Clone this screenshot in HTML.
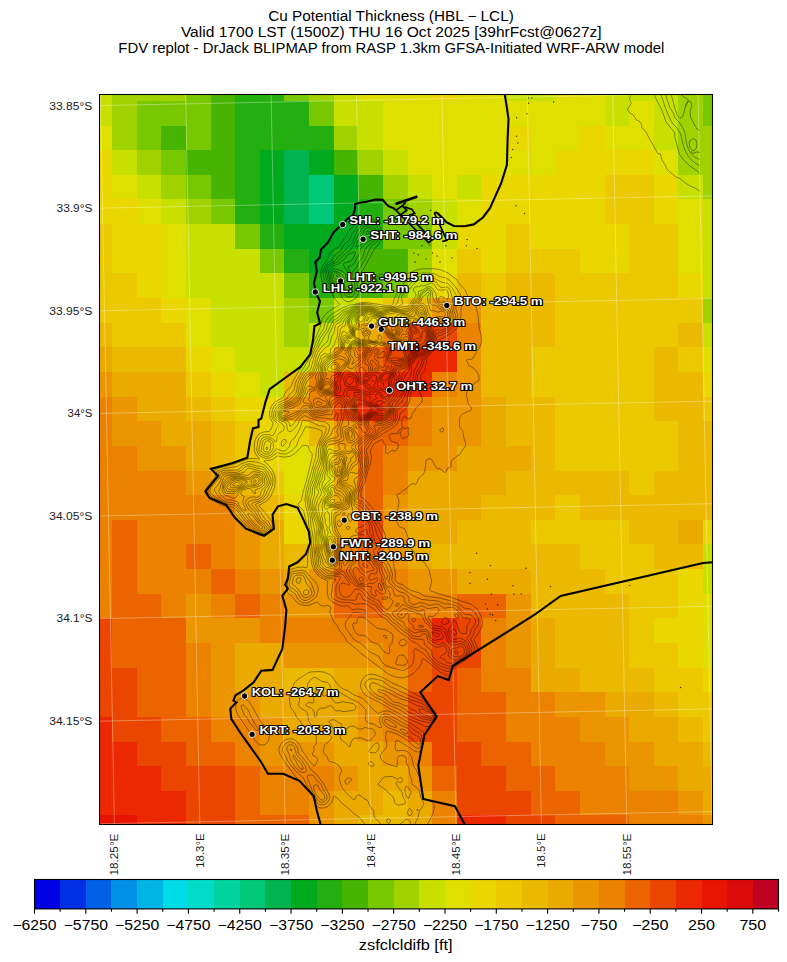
<!DOCTYPE html>
<html><head><meta charset="utf-8"><title>Cu Potential Thickness</title>
<style>html,body{margin:0;padding:0;background:#fff}body{width:787px;height:962px;overflow:hidden;position:relative}svg{position:absolute;left:0;top:0}text{font-family:"Liberation Sans",sans-serif;fill:#000}.lb{font-weight:700;font-size:11.5px;fill:#fff;stroke:#000;stroke-width:2.2px;paint-order:stroke;stroke-linejoin:round}.tk{font-size:10px;fill:#1a1a1a}.cb{font-size:14px;fill:#000}.tt{font-size:14px;fill:#000}</style></head><body>
<svg width="787" height="962" viewBox="0 0 787 962">
<defs><clipPath id="ax"><rect x="99.5" y="94.5" width="613.00" height="730.00"/></clipPath><clipPath id="cx"><rect x="99.5" y="94.5" width="600.70" height="730.00"/></clipPath></defs>
<g clip-path="url(#ax)" shape-rendering="crispEdges">
<rect x="99.50" y="94.50" width="12.80" height="6.70" fill="#c8e000"/>
<rect x="112.00" y="94.50" width="74.19" height="6.70" fill="#a0d200"/>
<rect x="185.89" y="94.50" width="24.93" height="6.70" fill="#78c800"/>
<rect x="210.52" y="94.50" width="24.93" height="6.70" fill="#46b400"/>
<rect x="235.15" y="94.50" width="49.56" height="6.70" fill="#23af0f"/>
<rect x="284.41" y="94.50" width="24.93" height="6.70" fill="#78c800"/>
<rect x="309.04" y="94.50" width="24.93" height="6.70" fill="#a0d200"/>
<rect x="333.67" y="94.50" width="24.93" height="6.70" fill="#c8e000"/>
<rect x="358.30" y="94.50" width="74.19" height="6.70" fill="#e0e000"/>
<rect x="432.19" y="94.50" width="24.93" height="6.70" fill="#ebd700"/>
<rect x="456.82" y="94.50" width="49.56" height="6.70" fill="#e0e000"/>
<rect x="506.08" y="94.50" width="49.56" height="6.70" fill="#c8e000"/>
<rect x="555.34" y="94.50" width="49.56" height="6.70" fill="#e0e000"/>
<rect x="604.60" y="94.50" width="74.19" height="6.70" fill="#c8e000"/>
<rect x="678.49" y="94.50" width="24.93" height="6.70" fill="#a0d200"/>
<rect x="703.12" y="94.50" width="9.68" height="6.70" fill="#78c800"/>
<rect x="99.50" y="100.90" width="12.80" height="24.94" fill="#c8e000"/>
<rect x="112.00" y="100.90" width="24.93" height="24.94" fill="#a0d200"/>
<rect x="136.63" y="100.90" width="74.19" height="24.94" fill="#78c800"/>
<rect x="210.52" y="100.90" width="24.93" height="24.94" fill="#46b400"/>
<rect x="235.15" y="100.90" width="74.19" height="24.94" fill="#23af0f"/>
<rect x="309.04" y="100.90" width="24.93" height="24.94" fill="#78c800"/>
<rect x="333.67" y="100.90" width="49.56" height="24.94" fill="#c8e000"/>
<rect x="382.93" y="100.90" width="221.97" height="24.94" fill="#e0e000"/>
<rect x="604.60" y="100.90" width="24.93" height="24.94" fill="#c8e000"/>
<rect x="629.23" y="100.90" width="24.93" height="24.94" fill="#e0e000"/>
<rect x="653.86" y="100.90" width="24.93" height="24.94" fill="#c8e000"/>
<rect x="678.49" y="100.90" width="24.93" height="24.94" fill="#a0d200"/>
<rect x="703.12" y="100.90" width="9.68" height="24.94" fill="#78c800"/>
<rect x="99.50" y="125.54" width="12.80" height="24.94" fill="#e0e000"/>
<rect x="112.00" y="125.54" width="24.93" height="24.94" fill="#a0d200"/>
<rect x="136.63" y="125.54" width="24.93" height="24.94" fill="#78c800"/>
<rect x="161.26" y="125.54" width="24.93" height="24.94" fill="#46b400"/>
<rect x="185.89" y="125.54" width="24.93" height="24.94" fill="#78c800"/>
<rect x="210.52" y="125.54" width="24.93" height="24.94" fill="#46b400"/>
<rect x="235.15" y="125.54" width="98.82" height="24.94" fill="#23af0f"/>
<rect x="333.67" y="125.54" width="24.93" height="24.94" fill="#a0d200"/>
<rect x="358.30" y="125.54" width="24.93" height="24.94" fill="#c8e000"/>
<rect x="382.93" y="125.54" width="123.45" height="24.94" fill="#e0e000"/>
<rect x="506.08" y="125.54" width="24.93" height="24.94" fill="#ebd700"/>
<rect x="530.71" y="125.54" width="49.56" height="24.94" fill="#e0e000"/>
<rect x="579.97" y="125.54" width="24.93" height="24.94" fill="#ebd700"/>
<rect x="604.60" y="125.54" width="49.56" height="24.94" fill="#e0e000"/>
<rect x="653.86" y="125.54" width="24.93" height="24.94" fill="#c8e000"/>
<rect x="678.49" y="125.54" width="34.31" height="24.94" fill="#a0d200"/>
<rect x="99.50" y="150.18" width="12.80" height="24.94" fill="#ebd700"/>
<rect x="112.00" y="150.18" width="24.93" height="24.94" fill="#c8e000"/>
<rect x="136.63" y="150.18" width="24.93" height="24.94" fill="#a0d200"/>
<rect x="161.26" y="150.18" width="24.93" height="24.94" fill="#78c800"/>
<rect x="185.89" y="150.18" width="49.56" height="24.94" fill="#46b400"/>
<rect x="235.15" y="150.18" width="24.93" height="24.94" fill="#23af0f"/>
<rect x="259.78" y="150.18" width="24.93" height="24.94" fill="#00aa1e"/>
<rect x="284.41" y="150.18" width="24.93" height="24.94" fill="#00b450"/>
<rect x="309.04" y="150.18" width="24.93" height="24.94" fill="#00aa1e"/>
<rect x="333.67" y="150.18" width="24.93" height="24.94" fill="#46b400"/>
<rect x="358.30" y="150.18" width="24.93" height="24.94" fill="#a0d200"/>
<rect x="382.93" y="150.18" width="24.93" height="24.94" fill="#c8e000"/>
<rect x="407.56" y="150.18" width="148.08" height="24.94" fill="#e0e000"/>
<rect x="555.34" y="150.18" width="98.82" height="24.94" fill="#ebd700"/>
<rect x="653.86" y="150.18" width="24.93" height="24.94" fill="#e0e000"/>
<rect x="678.49" y="150.18" width="34.31" height="24.94" fill="#a0d200"/>
<rect x="99.50" y="174.82" width="12.80" height="24.94" fill="#ebd700"/>
<rect x="112.00" y="174.82" width="24.93" height="24.94" fill="#e0e000"/>
<rect x="136.63" y="174.82" width="24.93" height="24.94" fill="#c8e000"/>
<rect x="161.26" y="174.82" width="24.93" height="24.94" fill="#a0d200"/>
<rect x="185.89" y="174.82" width="24.93" height="24.94" fill="#78c800"/>
<rect x="210.52" y="174.82" width="24.93" height="24.94" fill="#46b400"/>
<rect x="235.15" y="174.82" width="24.93" height="24.94" fill="#23af0f"/>
<rect x="259.78" y="174.82" width="24.93" height="24.94" fill="#00aa1e"/>
<rect x="284.41" y="174.82" width="24.93" height="24.94" fill="#00b450"/>
<rect x="309.04" y="174.82" width="24.93" height="24.94" fill="#00c878"/>
<rect x="333.67" y="174.82" width="24.93" height="24.94" fill="#00aa1e"/>
<rect x="358.30" y="174.82" width="24.93" height="24.94" fill="#46b400"/>
<rect x="382.93" y="174.82" width="24.93" height="24.94" fill="#a0d200"/>
<rect x="407.56" y="174.82" width="24.93" height="24.94" fill="#c8e000"/>
<rect x="432.19" y="174.82" width="24.93" height="24.94" fill="#e0e000"/>
<rect x="456.82" y="174.82" width="24.93" height="24.94" fill="#c8e000"/>
<rect x="481.45" y="174.82" width="123.45" height="24.94" fill="#ebd700"/>
<rect x="604.60" y="174.82" width="49.56" height="24.94" fill="#ebc800"/>
<rect x="653.86" y="174.82" width="24.93" height="24.94" fill="#ebd700"/>
<rect x="678.49" y="174.82" width="24.93" height="24.94" fill="#c8e000"/>
<rect x="703.12" y="174.82" width="9.68" height="24.94" fill="#a0d200"/>
<rect x="99.50" y="199.46" width="37.43" height="24.94" fill="#ebd700"/>
<rect x="136.63" y="199.46" width="24.93" height="24.94" fill="#e0e000"/>
<rect x="161.26" y="199.46" width="24.93" height="24.94" fill="#c8e000"/>
<rect x="185.89" y="199.46" width="24.93" height="24.94" fill="#a0d200"/>
<rect x="210.52" y="199.46" width="24.93" height="24.94" fill="#78c800"/>
<rect x="235.15" y="199.46" width="24.93" height="24.94" fill="#23af0f"/>
<rect x="259.78" y="199.46" width="24.93" height="24.94" fill="#00aa1e"/>
<rect x="284.41" y="199.46" width="24.93" height="24.94" fill="#00b450"/>
<rect x="309.04" y="199.46" width="24.93" height="24.94" fill="#00c878"/>
<rect x="333.67" y="199.46" width="24.93" height="24.94" fill="#00aa1e"/>
<rect x="358.30" y="199.46" width="24.93" height="24.94" fill="#23af0f"/>
<rect x="382.93" y="199.46" width="24.93" height="24.94" fill="#78c800"/>
<rect x="407.56" y="199.46" width="24.93" height="24.94" fill="#a0d200"/>
<rect x="432.19" y="199.46" width="24.93" height="24.94" fill="#c8e000"/>
<rect x="456.82" y="199.46" width="24.93" height="24.94" fill="#e0e000"/>
<rect x="481.45" y="199.46" width="123.45" height="24.94" fill="#ebd700"/>
<rect x="604.60" y="199.46" width="49.56" height="24.94" fill="#ebc800"/>
<rect x="653.86" y="199.46" width="24.93" height="24.94" fill="#ebd700"/>
<rect x="678.49" y="199.46" width="24.93" height="24.94" fill="#e0e000"/>
<rect x="703.12" y="199.46" width="9.68" height="24.94" fill="#c8e000"/>
<rect x="99.50" y="224.10" width="12.80" height="24.94" fill="#ebc800"/>
<rect x="112.00" y="224.10" width="49.56" height="24.94" fill="#ebd700"/>
<rect x="161.26" y="224.10" width="24.93" height="24.94" fill="#e0e000"/>
<rect x="185.89" y="224.10" width="49.56" height="24.94" fill="#c8e000"/>
<rect x="235.15" y="224.10" width="24.93" height="24.94" fill="#78c800"/>
<rect x="259.78" y="224.10" width="24.93" height="24.94" fill="#23af0f"/>
<rect x="284.41" y="224.10" width="74.19" height="24.94" fill="#00aa1e"/>
<rect x="358.30" y="224.10" width="24.93" height="24.94" fill="#23af0f"/>
<rect x="382.93" y="224.10" width="49.56" height="24.94" fill="#78c800"/>
<rect x="432.19" y="224.10" width="24.93" height="24.94" fill="#c8e000"/>
<rect x="456.82" y="224.10" width="49.56" height="24.94" fill="#ebd700"/>
<rect x="506.08" y="224.10" width="24.93" height="24.94" fill="#ebc800"/>
<rect x="530.71" y="224.10" width="98.82" height="24.94" fill="#ebd700"/>
<rect x="629.23" y="224.10" width="49.56" height="24.94" fill="#ebc800"/>
<rect x="678.49" y="224.10" width="24.93" height="24.94" fill="#e0e000"/>
<rect x="703.12" y="224.10" width="9.68" height="24.94" fill="#c8e000"/>
<rect x="99.50" y="248.74" width="12.80" height="24.94" fill="#ebc800"/>
<rect x="112.00" y="248.74" width="49.56" height="24.94" fill="#ebd700"/>
<rect x="161.26" y="248.74" width="24.93" height="24.94" fill="#e0e000"/>
<rect x="185.89" y="248.74" width="74.19" height="24.94" fill="#c8e000"/>
<rect x="259.78" y="248.74" width="24.93" height="24.94" fill="#78c800"/>
<rect x="284.41" y="248.74" width="24.93" height="24.94" fill="#23af0f"/>
<rect x="309.04" y="248.74" width="24.93" height="24.94" fill="#00aa1e"/>
<rect x="333.67" y="248.74" width="24.93" height="24.94" fill="#23af0f"/>
<rect x="358.30" y="248.74" width="49.56" height="24.94" fill="#46b400"/>
<rect x="407.56" y="248.74" width="24.93" height="24.94" fill="#a0d200"/>
<rect x="432.19" y="248.74" width="24.93" height="24.94" fill="#e0e000"/>
<rect x="456.82" y="248.74" width="24.93" height="24.94" fill="#ebc800"/>
<rect x="481.45" y="248.74" width="24.93" height="24.94" fill="#ebd700"/>
<rect x="506.08" y="248.74" width="74.19" height="24.94" fill="#ebc800"/>
<rect x="579.97" y="248.74" width="49.56" height="24.94" fill="#ebd700"/>
<rect x="629.23" y="248.74" width="49.56" height="24.94" fill="#ebc800"/>
<rect x="678.49" y="248.74" width="24.93" height="24.94" fill="#e0e000"/>
<rect x="703.12" y="248.74" width="9.68" height="24.94" fill="#c8e000"/>
<rect x="99.50" y="273.38" width="37.43" height="24.94" fill="#ebc800"/>
<rect x="136.63" y="273.38" width="24.93" height="24.94" fill="#ebd700"/>
<rect x="161.26" y="273.38" width="24.93" height="24.94" fill="#e0e000"/>
<rect x="185.89" y="273.38" width="98.82" height="24.94" fill="#c8e000"/>
<rect x="284.41" y="273.38" width="24.93" height="24.94" fill="#78c800"/>
<rect x="309.04" y="273.38" width="24.93" height="24.94" fill="#23af0f"/>
<rect x="333.67" y="273.38" width="49.56" height="24.94" fill="#46b400"/>
<rect x="382.93" y="273.38" width="24.93" height="24.94" fill="#78c800"/>
<rect x="407.56" y="273.38" width="24.93" height="24.94" fill="#c8e000"/>
<rect x="432.19" y="273.38" width="24.93" height="24.94" fill="#ebd700"/>
<rect x="456.82" y="273.38" width="24.93" height="24.94" fill="#ebb900"/>
<rect x="481.45" y="273.38" width="24.93" height="24.94" fill="#ebc800"/>
<rect x="506.08" y="273.38" width="49.56" height="24.94" fill="#ebb900"/>
<rect x="555.34" y="273.38" width="123.45" height="24.94" fill="#ebc800"/>
<rect x="678.49" y="273.38" width="24.93" height="24.94" fill="#ebd700"/>
<rect x="703.12" y="273.38" width="9.68" height="24.94" fill="#c8e000"/>
<rect x="99.50" y="298.02" width="62.06" height="24.94" fill="#ebc800"/>
<rect x="161.26" y="298.02" width="24.93" height="24.94" fill="#ebd700"/>
<rect x="185.89" y="298.02" width="24.93" height="24.94" fill="#e0e000"/>
<rect x="210.52" y="298.02" width="74.19" height="24.94" fill="#c8e000"/>
<rect x="284.41" y="298.02" width="24.93" height="24.94" fill="#a0d200"/>
<rect x="309.04" y="298.02" width="24.93" height="24.94" fill="#78c800"/>
<rect x="333.67" y="298.02" width="24.93" height="24.94" fill="#c8e000"/>
<rect x="358.30" y="298.02" width="24.93" height="24.94" fill="#ebd700"/>
<rect x="382.93" y="298.02" width="24.93" height="24.94" fill="#ebc800"/>
<rect x="407.56" y="298.02" width="24.93" height="24.94" fill="#ebb900"/>
<rect x="432.19" y="298.02" width="49.56" height="24.94" fill="#eb9600"/>
<rect x="481.45" y="298.02" width="74.19" height="24.94" fill="#ebb900"/>
<rect x="555.34" y="298.02" width="148.08" height="24.94" fill="#ebc800"/>
<rect x="703.12" y="298.02" width="9.68" height="24.94" fill="#a0d200"/>
<rect x="99.50" y="322.66" width="12.80" height="24.94" fill="#ebb900"/>
<rect x="112.00" y="322.66" width="74.19" height="24.94" fill="#ebc800"/>
<rect x="185.89" y="322.66" width="24.93" height="24.94" fill="#e0e000"/>
<rect x="210.52" y="322.66" width="74.19" height="24.94" fill="#c8e000"/>
<rect x="284.41" y="322.66" width="24.93" height="24.94" fill="#a0d200"/>
<rect x="309.04" y="322.66" width="24.93" height="24.94" fill="#c8e000"/>
<rect x="333.67" y="322.66" width="24.93" height="24.94" fill="#ebd700"/>
<rect x="358.30" y="322.66" width="24.93" height="24.94" fill="#ebaa00"/>
<rect x="382.93" y="322.66" width="24.93" height="24.94" fill="#eb8200"/>
<rect x="407.56" y="322.66" width="49.56" height="24.94" fill="#eb4600"/>
<rect x="456.82" y="322.66" width="24.93" height="24.94" fill="#eb8200"/>
<rect x="481.45" y="322.66" width="74.19" height="24.94" fill="#ebb900"/>
<rect x="555.34" y="322.66" width="123.45" height="24.94" fill="#ebc800"/>
<rect x="678.49" y="322.66" width="24.93" height="24.94" fill="#ebb900"/>
<rect x="703.12" y="322.66" width="9.68" height="24.94" fill="#c8e000"/>
<rect x="99.50" y="347.30" width="12.80" height="24.94" fill="#ebaa00"/>
<rect x="112.00" y="347.30" width="74.19" height="24.94" fill="#ebb900"/>
<rect x="185.89" y="347.30" width="24.93" height="24.94" fill="#ebd700"/>
<rect x="210.52" y="347.30" width="24.93" height="24.94" fill="#e0e000"/>
<rect x="235.15" y="347.30" width="74.19" height="24.94" fill="#c8e000"/>
<rect x="309.04" y="347.30" width="24.93" height="24.94" fill="#ebd700"/>
<rect x="333.67" y="347.30" width="24.93" height="24.94" fill="#eb9600"/>
<rect x="358.30" y="347.30" width="24.93" height="24.94" fill="#eb6400"/>
<rect x="382.93" y="347.30" width="24.93" height="24.94" fill="#eb4600"/>
<rect x="407.56" y="347.30" width="49.56" height="24.94" fill="#eb2800"/>
<rect x="456.82" y="347.30" width="24.93" height="24.94" fill="#eb9600"/>
<rect x="481.45" y="347.30" width="49.56" height="24.94" fill="#ebb900"/>
<rect x="530.71" y="347.30" width="123.45" height="24.94" fill="#ebc800"/>
<rect x="653.86" y="347.30" width="24.93" height="24.94" fill="#ebb900"/>
<rect x="678.49" y="347.30" width="24.93" height="24.94" fill="#ebc800"/>
<rect x="703.12" y="347.30" width="9.68" height="24.94" fill="#e0e000"/>
<rect x="99.50" y="371.94" width="12.80" height="24.94" fill="#eb9600"/>
<rect x="112.00" y="371.94" width="74.19" height="24.94" fill="#ebaa00"/>
<rect x="185.89" y="371.94" width="24.93" height="24.94" fill="#ebc800"/>
<rect x="210.52" y="371.94" width="24.93" height="24.94" fill="#ebd700"/>
<rect x="235.15" y="371.94" width="24.93" height="24.94" fill="#e0e000"/>
<rect x="259.78" y="371.94" width="24.93" height="24.94" fill="#c8e000"/>
<rect x="284.41" y="371.94" width="24.93" height="24.94" fill="#ebb900"/>
<rect x="309.04" y="371.94" width="24.93" height="24.94" fill="#eb8200"/>
<rect x="333.67" y="371.94" width="98.82" height="24.94" fill="#eb2800"/>
<rect x="432.19" y="371.94" width="24.93" height="24.94" fill="#eb8200"/>
<rect x="456.82" y="371.94" width="24.93" height="24.94" fill="#eb9600"/>
<rect x="481.45" y="371.94" width="49.56" height="24.94" fill="#ebb900"/>
<rect x="530.71" y="371.94" width="123.45" height="24.94" fill="#ebc800"/>
<rect x="653.86" y="371.94" width="49.56" height="24.94" fill="#ebb900"/>
<rect x="703.12" y="371.94" width="9.68" height="24.94" fill="#ebd700"/>
<rect x="99.50" y="396.58" width="12.80" height="24.94" fill="#eb8200"/>
<rect x="112.00" y="396.58" width="24.93" height="24.94" fill="#eb9600"/>
<rect x="136.63" y="396.58" width="49.56" height="24.94" fill="#ebaa00"/>
<rect x="185.89" y="396.58" width="24.93" height="24.94" fill="#ebb900"/>
<rect x="210.52" y="396.58" width="24.93" height="24.94" fill="#ebc800"/>
<rect x="235.15" y="396.58" width="49.56" height="24.94" fill="#ebd700"/>
<rect x="284.41" y="396.58" width="24.93" height="24.94" fill="#eb9600"/>
<rect x="309.04" y="396.58" width="24.93" height="24.94" fill="#eb8200"/>
<rect x="333.67" y="396.58" width="24.93" height="24.94" fill="#eb4600"/>
<rect x="358.30" y="396.58" width="24.93" height="24.94" fill="#eb2800"/>
<rect x="382.93" y="396.58" width="24.93" height="24.94" fill="#eb4600"/>
<rect x="407.56" y="396.58" width="24.93" height="24.94" fill="#eb8200"/>
<rect x="432.19" y="396.58" width="49.56" height="24.94" fill="#eb9600"/>
<rect x="481.45" y="396.58" width="24.93" height="24.94" fill="#ebaa00"/>
<rect x="506.08" y="396.58" width="49.56" height="24.94" fill="#ebb900"/>
<rect x="555.34" y="396.58" width="98.82" height="24.94" fill="#ebc800"/>
<rect x="653.86" y="396.58" width="49.56" height="24.94" fill="#ebb900"/>
<rect x="703.12" y="396.58" width="9.68" height="24.94" fill="#ebc800"/>
<rect x="99.50" y="421.22" width="12.80" height="24.94" fill="#eb8200"/>
<rect x="112.00" y="421.22" width="49.56" height="24.94" fill="#eb9600"/>
<rect x="161.26" y="421.22" width="49.56" height="24.94" fill="#ebaa00"/>
<rect x="210.52" y="421.22" width="24.93" height="24.94" fill="#ebb900"/>
<rect x="235.15" y="421.22" width="24.93" height="24.94" fill="#ebc800"/>
<rect x="259.78" y="421.22" width="49.56" height="24.94" fill="#ebd700"/>
<rect x="309.04" y="421.22" width="24.93" height="24.94" fill="#ebb900"/>
<rect x="333.67" y="421.22" width="24.93" height="24.94" fill="#eb9600"/>
<rect x="358.30" y="421.22" width="49.56" height="24.94" fill="#eb6400"/>
<rect x="407.56" y="421.22" width="24.93" height="24.94" fill="#eb8200"/>
<rect x="432.19" y="421.22" width="49.56" height="24.94" fill="#eb9600"/>
<rect x="481.45" y="421.22" width="24.93" height="24.94" fill="#ebaa00"/>
<rect x="506.08" y="421.22" width="49.56" height="24.94" fill="#ebb900"/>
<rect x="555.34" y="421.22" width="123.45" height="24.94" fill="#ebc800"/>
<rect x="678.49" y="421.22" width="34.31" height="24.94" fill="#ebb900"/>
<rect x="99.50" y="445.86" width="37.43" height="24.94" fill="#eb8200"/>
<rect x="136.63" y="445.86" width="49.56" height="24.94" fill="#eb9600"/>
<rect x="185.89" y="445.86" width="24.93" height="24.94" fill="#ebaa00"/>
<rect x="210.52" y="445.86" width="24.93" height="24.94" fill="#ebb900"/>
<rect x="235.15" y="445.86" width="24.93" height="24.94" fill="#ebc800"/>
<rect x="259.78" y="445.86" width="24.93" height="24.94" fill="#ebd700"/>
<rect x="284.41" y="445.86" width="24.93" height="24.94" fill="#e0e000"/>
<rect x="309.04" y="445.86" width="24.93" height="24.94" fill="#ebd700"/>
<rect x="333.67" y="445.86" width="24.93" height="24.94" fill="#ebaa00"/>
<rect x="358.30" y="445.86" width="24.93" height="24.94" fill="#eb6400"/>
<rect x="382.93" y="445.86" width="24.93" height="24.94" fill="#eb8200"/>
<rect x="407.56" y="445.86" width="49.56" height="24.94" fill="#eb9600"/>
<rect x="456.82" y="445.86" width="74.19" height="24.94" fill="#ebaa00"/>
<rect x="530.71" y="445.86" width="24.93" height="24.94" fill="#ebb900"/>
<rect x="555.34" y="445.86" width="123.45" height="24.94" fill="#ebc800"/>
<rect x="678.49" y="445.86" width="34.31" height="24.94" fill="#ebb900"/>
<rect x="99.50" y="470.50" width="86.69" height="24.94" fill="#eb8200"/>
<rect x="185.89" y="470.50" width="24.93" height="24.94" fill="#eb9600"/>
<rect x="210.52" y="470.50" width="24.93" height="24.94" fill="#ebaa00"/>
<rect x="235.15" y="470.50" width="24.93" height="24.94" fill="#ebb900"/>
<rect x="259.78" y="470.50" width="24.93" height="24.94" fill="#ebc800"/>
<rect x="284.41" y="470.50" width="49.56" height="24.94" fill="#e0e000"/>
<rect x="333.67" y="470.50" width="24.93" height="24.94" fill="#ebaa00"/>
<rect x="358.30" y="470.50" width="24.93" height="24.94" fill="#eb6400"/>
<rect x="382.93" y="470.50" width="24.93" height="24.94" fill="#eb8200"/>
<rect x="407.56" y="470.50" width="98.82" height="24.94" fill="#ebaa00"/>
<rect x="506.08" y="470.50" width="123.45" height="24.94" fill="#ebb900"/>
<rect x="629.23" y="470.50" width="24.93" height="24.94" fill="#ebc800"/>
<rect x="653.86" y="470.50" width="58.94" height="24.94" fill="#ebb900"/>
<rect x="99.50" y="495.14" width="135.95" height="24.94" fill="#eb8200"/>
<rect x="235.15" y="495.14" width="24.93" height="24.94" fill="#ebaa00"/>
<rect x="259.78" y="495.14" width="24.93" height="24.94" fill="#ebb900"/>
<rect x="284.41" y="495.14" width="49.56" height="24.94" fill="#ebd700"/>
<rect x="333.67" y="495.14" width="24.93" height="24.94" fill="#ebaa00"/>
<rect x="358.30" y="495.14" width="24.93" height="24.94" fill="#eb6400"/>
<rect x="382.93" y="495.14" width="24.93" height="24.94" fill="#eb9600"/>
<rect x="407.56" y="495.14" width="74.19" height="24.94" fill="#ebaa00"/>
<rect x="481.45" y="495.14" width="74.19" height="24.94" fill="#ebb900"/>
<rect x="555.34" y="495.14" width="24.93" height="24.94" fill="#ebc800"/>
<rect x="579.97" y="495.14" width="132.83" height="24.94" fill="#ebb900"/>
<rect x="99.50" y="519.78" width="12.80" height="24.94" fill="#eb8200"/>
<rect x="112.00" y="519.78" width="24.93" height="24.94" fill="#eb6400"/>
<rect x="136.63" y="519.78" width="98.82" height="24.94" fill="#eb8200"/>
<rect x="235.15" y="519.78" width="24.93" height="24.94" fill="#eb9600"/>
<rect x="259.78" y="519.78" width="24.93" height="24.94" fill="#ebaa00"/>
<rect x="284.41" y="519.78" width="49.56" height="24.94" fill="#ebd700"/>
<rect x="333.67" y="519.78" width="24.93" height="24.94" fill="#ebaa00"/>
<rect x="358.30" y="519.78" width="24.93" height="24.94" fill="#eb4600"/>
<rect x="382.93" y="519.78" width="24.93" height="24.94" fill="#eb9600"/>
<rect x="407.56" y="519.78" width="49.56" height="24.94" fill="#ebaa00"/>
<rect x="456.82" y="519.78" width="74.19" height="24.94" fill="#ebb900"/>
<rect x="530.71" y="519.78" width="98.82" height="24.94" fill="#ebc800"/>
<rect x="629.23" y="519.78" width="49.56" height="24.94" fill="#ebb900"/>
<rect x="678.49" y="519.78" width="24.93" height="24.94" fill="#ebaa00"/>
<rect x="703.12" y="519.78" width="9.68" height="24.94" fill="#ebd700"/>
<rect x="99.50" y="544.42" width="12.80" height="24.94" fill="#eb8200"/>
<rect x="112.00" y="544.42" width="24.93" height="24.94" fill="#eb6400"/>
<rect x="136.63" y="544.42" width="49.56" height="24.94" fill="#eb8200"/>
<rect x="185.89" y="544.42" width="24.93" height="24.94" fill="#eb6400"/>
<rect x="210.52" y="544.42" width="24.93" height="24.94" fill="#eb8200"/>
<rect x="235.15" y="544.42" width="24.93" height="24.94" fill="#eb9600"/>
<rect x="259.78" y="544.42" width="24.93" height="24.94" fill="#ebaa00"/>
<rect x="284.41" y="544.42" width="49.56" height="24.94" fill="#ebb900"/>
<rect x="333.67" y="544.42" width="24.93" height="24.94" fill="#eb8200"/>
<rect x="358.30" y="544.42" width="24.93" height="24.94" fill="#eb6400"/>
<rect x="382.93" y="544.42" width="24.93" height="24.94" fill="#eb9600"/>
<rect x="407.56" y="544.42" width="24.93" height="24.94" fill="#ebaa00"/>
<rect x="432.19" y="544.42" width="148.08" height="24.94" fill="#ebb900"/>
<rect x="579.97" y="544.42" width="74.19" height="24.94" fill="#ebc800"/>
<rect x="653.86" y="544.42" width="49.56" height="24.94" fill="#ebb900"/>
<rect x="703.12" y="544.42" width="9.68" height="24.94" fill="#c8e000"/>
<rect x="99.50" y="569.06" width="12.80" height="24.94" fill="#eb8200"/>
<rect x="112.00" y="569.06" width="24.93" height="24.94" fill="#eb6400"/>
<rect x="136.63" y="569.06" width="74.19" height="24.94" fill="#eb8200"/>
<rect x="210.52" y="569.06" width="24.93" height="24.94" fill="#eb6400"/>
<rect x="235.15" y="569.06" width="24.93" height="24.94" fill="#eb8200"/>
<rect x="259.78" y="569.06" width="24.93" height="24.94" fill="#eb9600"/>
<rect x="284.41" y="569.06" width="24.93" height="24.94" fill="#ebaa00"/>
<rect x="309.04" y="569.06" width="24.93" height="24.94" fill="#eb9600"/>
<rect x="333.67" y="569.06" width="49.56" height="24.94" fill="#eb6400"/>
<rect x="382.93" y="569.06" width="24.93" height="24.94" fill="#eb8200"/>
<rect x="407.56" y="569.06" width="49.56" height="24.94" fill="#eb9600"/>
<rect x="456.82" y="569.06" width="74.19" height="24.94" fill="#ebaa00"/>
<rect x="530.71" y="569.06" width="74.19" height="24.94" fill="#ebb900"/>
<rect x="604.60" y="569.06" width="74.19" height="24.94" fill="#ebc800"/>
<rect x="678.49" y="569.06" width="24.93" height="24.94" fill="#ebd700"/>
<rect x="703.12" y="569.06" width="9.68" height="24.94" fill="#c8e000"/>
<rect x="99.50" y="593.70" width="12.80" height="24.94" fill="#eb8200"/>
<rect x="112.00" y="593.70" width="49.56" height="24.94" fill="#eb6400"/>
<rect x="161.26" y="593.70" width="24.93" height="24.94" fill="#eb8200"/>
<rect x="185.89" y="593.70" width="24.93" height="24.94" fill="#eb9600"/>
<rect x="210.52" y="593.70" width="24.93" height="24.94" fill="#eb8200"/>
<rect x="235.15" y="593.70" width="24.93" height="24.94" fill="#eb6400"/>
<rect x="259.78" y="593.70" width="24.93" height="24.94" fill="#eb8200"/>
<rect x="284.41" y="593.70" width="49.56" height="24.94" fill="#eb9600"/>
<rect x="333.67" y="593.70" width="49.56" height="24.94" fill="#eb6400"/>
<rect x="382.93" y="593.70" width="74.19" height="24.94" fill="#eb8200"/>
<rect x="456.82" y="593.70" width="49.56" height="24.94" fill="#eb6400"/>
<rect x="506.08" y="593.70" width="24.93" height="24.94" fill="#eb9600"/>
<rect x="530.71" y="593.70" width="98.82" height="24.94" fill="#ebb900"/>
<rect x="629.23" y="593.70" width="49.56" height="24.94" fill="#ebc800"/>
<rect x="678.49" y="593.70" width="24.93" height="24.94" fill="#ebd700"/>
<rect x="703.12" y="593.70" width="9.68" height="24.94" fill="#e0e000"/>
<rect x="99.50" y="618.34" width="12.80" height="24.94" fill="#eb4600"/>
<rect x="112.00" y="618.34" width="74.19" height="24.94" fill="#eb6400"/>
<rect x="185.89" y="618.34" width="74.19" height="24.94" fill="#eb9600"/>
<rect x="259.78" y="618.34" width="148.08" height="24.94" fill="#eb8200"/>
<rect x="407.56" y="618.34" width="24.93" height="24.94" fill="#eb6400"/>
<rect x="432.19" y="618.34" width="24.93" height="24.94" fill="#eb2800"/>
<rect x="456.82" y="618.34" width="24.93" height="24.94" fill="#eb4600"/>
<rect x="481.45" y="618.34" width="24.93" height="24.94" fill="#eb8200"/>
<rect x="506.08" y="618.34" width="24.93" height="24.94" fill="#eb9600"/>
<rect x="530.71" y="618.34" width="24.93" height="24.94" fill="#ebaa00"/>
<rect x="555.34" y="618.34" width="74.19" height="24.94" fill="#ebb900"/>
<rect x="629.23" y="618.34" width="24.93" height="24.94" fill="#ebc800"/>
<rect x="653.86" y="618.34" width="49.56" height="24.94" fill="#ebd700"/>
<rect x="703.12" y="618.34" width="9.68" height="24.94" fill="#e0e000"/>
<rect x="99.50" y="642.98" width="12.80" height="24.94" fill="#eb4600"/>
<rect x="112.00" y="642.98" width="74.19" height="24.94" fill="#eb6400"/>
<rect x="185.89" y="642.98" width="24.93" height="24.94" fill="#eb8200"/>
<rect x="210.52" y="642.98" width="24.93" height="24.94" fill="#eb9600"/>
<rect x="235.15" y="642.98" width="49.56" height="24.94" fill="#ebaa00"/>
<rect x="284.41" y="642.98" width="98.82" height="24.94" fill="#eb9600"/>
<rect x="382.93" y="642.98" width="24.93" height="24.94" fill="#eb8200"/>
<rect x="407.56" y="642.98" width="24.93" height="24.94" fill="#eb6400"/>
<rect x="432.19" y="642.98" width="49.56" height="24.94" fill="#eb4600"/>
<rect x="481.45" y="642.98" width="24.93" height="24.94" fill="#eb8200"/>
<rect x="506.08" y="642.98" width="24.93" height="24.94" fill="#eb9600"/>
<rect x="530.71" y="642.98" width="24.93" height="24.94" fill="#ebaa00"/>
<rect x="555.34" y="642.98" width="74.19" height="24.94" fill="#ebb900"/>
<rect x="629.23" y="642.98" width="49.56" height="24.94" fill="#ebc800"/>
<rect x="678.49" y="642.98" width="24.93" height="24.94" fill="#ebd700"/>
<rect x="703.12" y="642.98" width="9.68" height="24.94" fill="#e0e000"/>
<rect x="99.50" y="667.62" width="37.43" height="24.94" fill="#eb4600"/>
<rect x="136.63" y="667.62" width="49.56" height="24.94" fill="#eb6400"/>
<rect x="185.89" y="667.62" width="24.93" height="24.94" fill="#eb8200"/>
<rect x="210.52" y="667.62" width="24.93" height="24.94" fill="#eb9600"/>
<rect x="235.15" y="667.62" width="49.56" height="24.94" fill="#ebaa00"/>
<rect x="284.41" y="667.62" width="49.56" height="24.94" fill="#ebb900"/>
<rect x="333.67" y="667.62" width="49.56" height="24.94" fill="#ebaa00"/>
<rect x="382.93" y="667.62" width="24.93" height="24.94" fill="#eb9600"/>
<rect x="407.56" y="667.62" width="24.93" height="24.94" fill="#eb6400"/>
<rect x="432.19" y="667.62" width="24.93" height="24.94" fill="#eb4600"/>
<rect x="456.82" y="667.62" width="24.93" height="24.94" fill="#eb6400"/>
<rect x="481.45" y="667.62" width="49.56" height="24.94" fill="#eb8200"/>
<rect x="530.71" y="667.62" width="49.56" height="24.94" fill="#ebaa00"/>
<rect x="579.97" y="667.62" width="74.19" height="24.94" fill="#ebb900"/>
<rect x="653.86" y="667.62" width="49.56" height="24.94" fill="#ebc800"/>
<rect x="703.12" y="667.62" width="9.68" height="24.94" fill="#ebd700"/>
<rect x="99.50" y="692.26" width="37.43" height="24.94" fill="#eb4600"/>
<rect x="136.63" y="692.26" width="49.56" height="24.94" fill="#eb6400"/>
<rect x="185.89" y="692.26" width="24.93" height="24.94" fill="#eb8200"/>
<rect x="210.52" y="692.26" width="49.56" height="24.94" fill="#eb9600"/>
<rect x="259.78" y="692.26" width="98.82" height="24.94" fill="#ebaa00"/>
<rect x="358.30" y="692.26" width="24.93" height="24.94" fill="#eb9600"/>
<rect x="382.93" y="692.26" width="24.93" height="24.94" fill="#eb8200"/>
<rect x="407.56" y="692.26" width="49.56" height="24.94" fill="#eb4600"/>
<rect x="456.82" y="692.26" width="49.56" height="24.94" fill="#eb6400"/>
<rect x="506.08" y="692.26" width="49.56" height="24.94" fill="#eb8200"/>
<rect x="555.34" y="692.26" width="49.56" height="24.94" fill="#eb9600"/>
<rect x="604.60" y="692.26" width="49.56" height="24.94" fill="#ebaa00"/>
<rect x="653.86" y="692.26" width="24.93" height="24.94" fill="#ebb900"/>
<rect x="678.49" y="692.26" width="34.31" height="24.94" fill="#ebc800"/>
<rect x="99.50" y="716.90" width="12.80" height="24.94" fill="#eb2800"/>
<rect x="112.00" y="716.90" width="49.56" height="24.94" fill="#eb4600"/>
<rect x="161.26" y="716.90" width="49.56" height="24.94" fill="#eb6400"/>
<rect x="210.52" y="716.90" width="49.56" height="24.94" fill="#eb8200"/>
<rect x="259.78" y="716.90" width="24.93" height="24.94" fill="#eb9600"/>
<rect x="284.41" y="716.90" width="74.19" height="24.94" fill="#ebaa00"/>
<rect x="358.30" y="716.90" width="24.93" height="24.94" fill="#eb9600"/>
<rect x="382.93" y="716.90" width="24.93" height="24.94" fill="#eb8200"/>
<rect x="407.56" y="716.90" width="49.56" height="24.94" fill="#eb4600"/>
<rect x="456.82" y="716.90" width="49.56" height="24.94" fill="#eb6400"/>
<rect x="506.08" y="716.90" width="74.19" height="24.94" fill="#eb8200"/>
<rect x="579.97" y="716.90" width="49.56" height="24.94" fill="#eb9600"/>
<rect x="629.23" y="716.90" width="49.56" height="24.94" fill="#ebaa00"/>
<rect x="678.49" y="716.90" width="24.93" height="24.94" fill="#ebb900"/>
<rect x="703.12" y="716.90" width="9.68" height="24.94" fill="#ebc800"/>
<rect x="99.50" y="741.54" width="37.43" height="24.94" fill="#eb2800"/>
<rect x="136.63" y="741.54" width="49.56" height="24.94" fill="#eb4600"/>
<rect x="185.89" y="741.54" width="49.56" height="24.94" fill="#eb6400"/>
<rect x="235.15" y="741.54" width="24.93" height="24.94" fill="#eb8200"/>
<rect x="259.78" y="741.54" width="74.19" height="24.94" fill="#eb9600"/>
<rect x="333.67" y="741.54" width="49.56" height="24.94" fill="#ebaa00"/>
<rect x="382.93" y="741.54" width="24.93" height="24.94" fill="#eb9600"/>
<rect x="407.56" y="741.54" width="24.93" height="24.94" fill="#eb8200"/>
<rect x="432.19" y="741.54" width="49.56" height="24.94" fill="#eb4600"/>
<rect x="481.45" y="741.54" width="49.56" height="24.94" fill="#eb6400"/>
<rect x="530.71" y="741.54" width="74.19" height="24.94" fill="#eb8200"/>
<rect x="604.60" y="741.54" width="49.56" height="24.94" fill="#eb9600"/>
<rect x="653.86" y="741.54" width="49.56" height="24.94" fill="#ebaa00"/>
<rect x="703.12" y="741.54" width="9.68" height="24.94" fill="#ebb900"/>
<rect x="99.50" y="766.18" width="62.06" height="24.94" fill="#eb2800"/>
<rect x="161.26" y="766.18" width="74.19" height="24.94" fill="#eb4600"/>
<rect x="235.15" y="766.18" width="24.93" height="24.94" fill="#eb6400"/>
<rect x="259.78" y="766.18" width="74.19" height="24.94" fill="#eb8200"/>
<rect x="333.67" y="766.18" width="24.93" height="24.94" fill="#eb9600"/>
<rect x="358.30" y="766.18" width="49.56" height="24.94" fill="#ebaa00"/>
<rect x="407.56" y="766.18" width="24.93" height="24.94" fill="#eb9600"/>
<rect x="432.19" y="766.18" width="24.93" height="24.94" fill="#eb6400"/>
<rect x="456.82" y="766.18" width="49.56" height="24.94" fill="#eb4600"/>
<rect x="506.08" y="766.18" width="49.56" height="24.94" fill="#eb6400"/>
<rect x="555.34" y="766.18" width="74.19" height="24.94" fill="#eb8200"/>
<rect x="629.23" y="766.18" width="49.56" height="24.94" fill="#eb9600"/>
<rect x="678.49" y="766.18" width="34.31" height="24.94" fill="#ebaa00"/>
<rect x="99.50" y="790.82" width="86.69" height="24.94" fill="#eb2800"/>
<rect x="185.89" y="790.82" width="49.56" height="24.94" fill="#eb4600"/>
<rect x="235.15" y="790.82" width="24.93" height="24.94" fill="#eb6400"/>
<rect x="259.78" y="790.82" width="49.56" height="24.94" fill="#eb8200"/>
<rect x="309.04" y="790.82" width="24.93" height="24.94" fill="#eb9600"/>
<rect x="333.67" y="790.82" width="49.56" height="24.94" fill="#ebaa00"/>
<rect x="382.93" y="790.82" width="24.93" height="24.94" fill="#ebb900"/>
<rect x="407.56" y="790.82" width="24.93" height="24.94" fill="#ebaa00"/>
<rect x="432.19" y="790.82" width="24.93" height="24.94" fill="#eb8200"/>
<rect x="456.82" y="790.82" width="74.19" height="24.94" fill="#eb4600"/>
<rect x="530.71" y="790.82" width="49.56" height="24.94" fill="#eb6400"/>
<rect x="579.97" y="790.82" width="98.82" height="24.94" fill="#eb8200"/>
<rect x="678.49" y="790.82" width="24.93" height="24.94" fill="#eb9600"/>
<rect x="703.12" y="790.82" width="9.68" height="24.94" fill="#ebaa00"/>
<rect x="99.50" y="815.46" width="37.43" height="9.34" fill="#e61400"/>
<rect x="136.63" y="815.46" width="49.56" height="9.34" fill="#eb2800"/>
<rect x="185.89" y="815.46" width="49.56" height="9.34" fill="#eb4600"/>
<rect x="235.15" y="815.46" width="74.19" height="9.34" fill="#eb6400"/>
<rect x="309.04" y="815.46" width="24.93" height="9.34" fill="#eb9600"/>
<rect x="333.67" y="815.46" width="24.93" height="9.34" fill="#ebaa00"/>
<rect x="358.30" y="815.46" width="49.56" height="9.34" fill="#ebb900"/>
<rect x="407.56" y="815.46" width="24.93" height="9.34" fill="#ebaa00"/>
<rect x="432.19" y="815.46" width="24.93" height="9.34" fill="#eb8200"/>
<rect x="456.82" y="815.46" width="49.56" height="9.34" fill="#eb2800"/>
<rect x="506.08" y="815.46" width="49.56" height="9.34" fill="#eb4600"/>
<rect x="555.34" y="815.46" width="74.19" height="9.34" fill="#eb6400"/>
<rect x="629.23" y="815.46" width="74.19" height="9.34" fill="#eb8200"/>
<rect x="703.12" y="815.46" width="9.68" height="9.34" fill="#eb9600"/>
</g>
<g clip-path="url(#cx)" fill="none" stroke="#000" stroke-opacity="0.68" stroke-width="0.6" stroke-linejoin="round">
<path d="M365.1 218l3.4 0.1 3 0.8 3.5 1.9 2.5 2.1 1.7 2.1 1.5 3 1.2 7 -0.7 4 -1.5 3.5 -5.5 7 -11 20 -3.8 4.5 0.6 3.9 1 2.4 1 0.9 2.2 -0.2 -1.4 3.5 0.2 1 1.4 1.5 4.6 2.7 3 2.6 1.5 0.6 1.5 -0.2 0.3 -1.7 -0.8 -5.2 -3.5 0.1 -0.7 -0.9 0.1 -1 0.6 -0.7 1.5 0 2 2.1 2.3 -1.4 0.5 -1 -0.6 -2.5 0.1 -2 1.7 -3.2 1.5 -1.4 2.5 0.3 5.5 2.2 2 -0.2 5.5 -2.4 1.4 0.2 3.1 1.6 4 -1.4 4 -0.7 9.5 -3.8 5 -0.9 9.5 -0.2 6.5 0.6 9.5 3.7 8.6 6.6 2.9 4.5 4 4 2.2 3 3.3 8.5 1.5 1.6 3.5 2.3 1.5 1.8 0.8 2.3 2 10 1 12 1.8 5 0.4 6 -0.4 3 -1.6 4 -3.4 5 -2.7 5.5 -1.9 1.2 -4 0.1 -0.9 1.2 2.4 5.2 5.1 2.8 2.6 3 2 4 0.5 4 -0.8 1.5 -4 2 -2.9 3.8 -3 1.9 -1.7 3.3 -0.3 3.5 1.7 8 0.8 1.5 2.5 2.5 -0.1 2 -0.9 1 -5 1.9 -3 1.8 -2.1 1.8 -1 2 0.1 8.5 3.4 5 1.2 7.5 1.7 4.5 -0.3 2.2 -6 9.2 -3 1.6 -5 4.1 -0.5 1.4 0.2 4.5 -0.7 0.8 -3.3 1.2 -1 3 -0.7 0.7 -1 0.1 -1.5 -0.7 -2.5 -2.8 -3 -0.4 -1 -0.6 -5.5 -9.3 -4.5 1.2 -0.7 1.3 0.1 3.5 -1.7 8 -1.6 2.5 -4.4 4 -1.5 4.5 -1.2 0.7 -3 -0.5 -2 0.6 -4 4.2 -3.5 2 -3 2.9 -2.8 1.1 -0.5 1 1.8 3.3 0.4 4.7 -2.3 11 -1.1 3.2 0.1 1.8 3.4 6.8 1.5 1 4 1.2 3.8 9.5 -0.2 7.5 1.1 2 4 3.5 1.6 2 1.2 4.8 1 0.7 4 1.2 2.1 1.3 5.8 8.5 2.7 11 -0.4 3 -1.8 6.5 1.5 1 7 2.5 13.1 3.8 12.5 4.6 7.5 2.2 7 5.5 3.8 8.4 0.6 5 -0.8 4.5 -4.7 8 -3.1 4 3.4 7.5 0 2 -0.7 1.5 -3 3.5 -6.5 5.2 -12 7.6 -4 6.4 -1.5 1.5 -1.5 0.6 -3 -0.6 -4.5 -2.5 -16 -12.9 -1.5 -0.7 -0.8 0.9 -1.5 5.5 -1.7 2.7 -5.7 5.8 -3.8 2.3 -5 1.8 -4 0.2 -6 -1.1 -5.5 -2.2 -28.5 -21.6 -7 -6.3 -6 -4.6 -1.5 -2 -1.5 -3.5 -4.7 -5.5 -2.3 -4.8 -3 -3.7 -2.1 -3.5 -2.4 -6.5 0 -2 0.9 -2.5 -1.4 -2 -2 -0.7 -4 0.8 -2 -0.3 -2.2 -1.3 -1.8 -2.6 -9 3.4 -3.5 0.2 -3.5 -0.6 -2.5 -1.1 -2.4 -1.8 -4.1 -5 -4.9 -4.5 -1.9 -7 -0.1 -2 2.4 -10 1.5 -3 2.5 -1.7 6 -1.5 3.5 -0.3 5 0.7 0.7 -0.7 0.6 -5 -0.4 -4.5 2.5 -14.5 -0.4 -6.1 -5.7 -25.4 -0.8 -1.6 -2 -1.5 -2.5 -2.9 -0.6 -1.5 0.7 -1 2.4 -1.9 0.5 -1.1 1.8 -9 2.7 -8.7 6.1 -24.8 0.1 -4 -2.7 -3 -1.3 -4.5 -4.2 -0.7 -1.5 0.3 -7.5 7.9 -5 2.8 -6 0.9 -6.5 -1.3 -4 2.8 -3 1.4 -6.7 0.9 5 4.5 4.1 5.5 1.8 4.5 0.6 4.5 -0.7 7.5 -3.7 8.5 -1.9 2.6 -2.5 2.3 -7.6 4.6 11.6 13.8 1.2 2.2 1.2 4 0.2 2.5 -0.8 2 -2.8 2.8 -4 2.7 -2.5 0.5 -3.5 -0.7 -6 -2.7 -6 -3.6 -10.7 -10.5 -5.1 -6 -6.6 -6 -13.6 -6.5 -2.3 -1.5 -2.9 -4 -0.9 -2.5 0.3 -2.5 1 -2 8.4 -10.5 0.4 -1.5 -1.4 -4 0.3 -1 1.1 -1.1 4.5 -1.7 15.5 -4.2 13.5 -4.8 4.5 -0.3 5.5 0.6 0.2 -0.5 -3 -3.5 -1.6 -3.5 -0.4 -3.5 0.4 -6.5 1.9 -4.5 3 -3.3 4.5 -1.9 5.2 -0.3 1.3 -1.4 2.7 -6.1 -0.4 -1.5 -2.4 -4 -0.8 -3.5 0.1 -4 1.6 -4.5 2.1 -3 2.1 -2 7.2 -3.5 3.3 -6.5 5.2 -5.5 2.5 -6 5.7 -10 10.2 -16 5.2 -15 3.7 -7.5 2.5 -6.6 1.4 -6.4 0.8 -1.5 3 -3.5 6.3 -4.7 6.1 -3.3 1 -1 -5.4 -6.5 -2.7 -6.4 -5.4 -4.1 -3.2 -4.5 -1.5 -4.5 -0.5 -3.5 0 -4 1.1 -3.5 1.6 -3 3.7 -4.5 1.5 -4.5 1.7 -2.9 2 -2 6.2 -3.6 11.1 -17 5.7 -6.8 4 -3.4 5.6 -1.8"/>
<path d="M442.5 427.9l-1.5 0.6 -1 1.2 0.2 1.3 1.3 1 1.5 -0.4 0.6 -1.1 -0.3 -2 -0.8 -0.6"/>
<path d="M368.7 674.5l2.8 -0.3 3.5 0.4 7.5 2.8 9.6 5.6 9.4 3.9 20.5 10.9 5 4.3 8.6 10.4 1.5 3.5 -0.3 2 -0.8 1.5 -3 3.6 -3 2.6 -2 1 -2.5 -0.3 -17 -7.7 -22.5 -12.1 -6 -4.1 -6.5 -2.9 -8 -4.4 -2.2 -2.2 -1.8 -3.2 -0.9 -2.8 0 -2.5 1 -3.5 1.8 -3 2.6 -2.3 2.7 -1.2"/>
<path d="M241.8 698.5l2.2 0.1 2 0.7 3.5 3 2.5 3.7 7.5 14 3.6 4 5.9 8 0.5 3 -0.9 5.5 -1.5 2.5 -2.1 1.5 -2.5 0.7 -2 -0.3 -2 -1 -2 -1.7 -19.1 -28.2 -1.7 -5 0 -3.5 2 -5 1.8 -1.4 2.3 -0.6"/>
<path d="M365.3 824.5l-6.3 -7.4 -5.5 -3.9 -4.5 -4.3 -6.5 -5.1 -4.4 -4.8 -3.6 -2.9 -0.7 0.4 -2 6 -3.8 3.9 -3 1.3 -2.5 0.4 -3 -0.3 -2 -1.2 -2 -2.8 -3.6 -8.3 -9.9 -12.5 -6.1 -6 -11.5 -15.5 -4.6 -7.5 -0.7 -3 0 -2.5 1.2 -3.5 1.6 -2.5 2.1 -1.9 2.5 -1.2 3 -0.6 2.5 0.1 3.5 1.5 2.8 2.6 2.2 3.5 2 4.8 2.7 3.2 2.7 4.5 5.6 6.6 1.5 0.3 2.4 -4.9 0.3 -1.5 -0.7 -1.7 -1.5 -1.2 -2.5 -1 -0.7 -1.6 2 -4 -0.8 -3.5 2 -1.7 0.9 -1.8 -0.2 -7.5 -11.2 -7.8 -2.8 -3.2 -2.7 -4.4 -2.9 -2.6 -2 -5 -3.9 -5 -1 -5.5 -0.3 -5 0.3 -2.5 4.6 -11.5 3.2 -3.3 11 -7.1 3 -0.7 7 -0.4 6 0.8 4.5 1.8 2.5 1.9 6 8.2 3.2 3.3 2.6 1.5 4.7 1.7 6 4.3 6.5 2.2 2.3 1.3 3.9 3.5 5.7 7 5.1 4.1 1.5 0.2 3.5 -1.7 3 -0.7 2.5 0.1 2.5 0.8 20.5 11.9 10 6.5 2.5 2.2 0.8 2.6 -0.7 8 -1.7 5.5 -2.4 3.1 -2 0.4 -2.5 -0.8 -12.8 -8.2 -5.2 -2.7 -1.1 0.7 -0.9 6.5 0.5 2.5 1 0.9 6.5 -0.6 2 0.2 3 1.6 2.4 2.4 1.3 3 1.8 8.4 3.5 5.5 2.3 6.1 4.2 19.6 1.6 1.9 6.5 3 2.3 2.5 0.4 3.5 -1.4 6 -5.6 10.5"/>
<path d="M366 221l2.5 0 3 1 3 1.9 2.2 2.1 1.1 2 1.1 5.5 -0.1 4.5 -2 4 -4.3 3.3 -1.4 1.7 -2.3 4 -3.4 8 -3.4 5 -1.5 4 -4.9 5 0.1 3 2.7 15 -0.1 2.5 -0.8 2.2 -2 2.7 -4.5 2.8 -2 0.5 -2 -0.2 -2.5 -1 -2 -2 -3.5 -8.8 -7 -0.8 -3 -1.9 -2.4 -2.5 -1.4 -2.5 -1.5 -5 -0.8 -4.5 0.2 -2.5 1 -2.5 2 -3 5.8 -4.5 2.6 -4.5 6.4 -5 4.4 -7.5 4.2 -2.8 2.6 -6.7 3.7 -5 4.9 -5 5.3 -2.5"/>
<path d="M421.7 273l11.3 0.4 2.1 0.6 4.4 2.5 6 1.3 4.5 2.8 5.2 5.9 5.3 8 1.9 7 0 3 -1.4 4 0.1 4 -1.1 10 -2.5 5 -6.5 5.9 -8 4.8 -5 2.1 -2.2 5.7 -2 3.5 -6.6 8 -2.1 12.5 -4.1 4.8 -0.4 6.2 -2.8 4 -0.7 2 0.4 2.1 2 2.8 2.5 5.7 0.4 1.9 -0.3 2 -1.8 2.5 -3.9 3.5 -1.6 3 -2.3 2.5 -1.5 5.3 -1 0.6 -1.5 0 -4 -2.5 -1.5 1.1 -0.9 2.5 -0.5 3.5 0.7 4.5 2.7 0.4 3 -0.7 0.8 0.3 -0.8 2 0.5 4 -0.5 2.4 -1 0.8 -2 0.6 -2 0.5 -1 -0.4 -2.2 -3.9 1.9 -3.5 0.3 -1.5 -0.5 -0.4 -1.5 0.5 -1 0.9 -1 3.5 -6 0.2 -2.3 0.8 -0.7 1 0.1 1 1.6 4 1.3 1 5.1 1.5 0.9 1 0.4 2 -0.6 2 -2.3 3.3 -3.5 -1 -4 3.2 -1.5 0 -1 -1 0.4 -6.5 -2.9 -4.5 -0.8 -2 -1.7 0.5 -5.5 3.1 -2 2.2 -2.8 5.7 1.3 6 -0.6 5.5 -2.4 6.4 -3.8 13.6 -3.3 8 -0.8 5.5 0.4 1.2 3 1.8 8.8 9.5 1.7 3.5 0.9 4.5 1.6 4 6.1 9 2 5 0.9 4.9 2.1 5.1 1.1 5 4.2 7.5 0.6 10.5 1.6 6.5 -0.7 4.5 0.6 1.8 1.5 2 1.6 1.2 4.4 1.3 2.5 2.5 6.5 3.5 7.5 2.2 4.5 2.9 17 2.4 9 2.4 8 2.9 6.5 4.6 5.5 0.8 3.5 1.9 1.6 1.6 3.2 5.5 0.7 3.5 -0.6 3.5 -3.7 5 -1.4 5 -2.6 4 3.7 8 0 2 -1 2.5 -1.9 2.5 -5 4.2 -12 7.4 -4.5 5.3 -2 0.8 -4.5 -1.2 -5 -2.7 -8 -6.5 -7.1 -7.8 -7.9 -4.8 -1 0.3 -0.9 2 0.6 4.5 -0.7 7 -2.1 3 -3.4 2.7 -3.5 1.9 -2 0.3 -9 -2 -7 -2.4 -4.2 -3.5 -3.3 -5.9 -9.5 -4.9 -7.5 -7.2 -8.1 -5 -6.5 -9 -1.8 -3.5 -0.4 -2.5 0.5 -2.5 6.8 -9 1.5 -0.5 4 0.1 7.5 1 1.7 -0.1 -0.3 -0.5 -2.9 -2.8 -1.5 -0.8 -4 -0.4 -6 0.7 -1.5 -0.9 -1.8 -2.3 -1.2 -0.7 -6 0.4 -3 -0.7 -7 -3.8 -3.5 -3.7 -0.8 -2.5 -0.5 -6.5 0.6 -8 -5.8 -2.6 -5 -3.8 -3.1 -4.6 -2 -5.5 -1.2 -10.5 0.9 -10 -0.2 -6 -2.6 -13 -0.4 -8 -2.6 -11 -0.9 -7 1.7 -11 9.1 -31 0.5 -6.5 1.8 -7 3.7 -8 0.7 -3.5 -0.4 -1.2 -6.5 -2.4 -9 -1.7 -1.4 0.3 -2.5 6 -3.8 6.5 -2.5 6.5 -4.8 5 -5 2.8 -3.5 0.3 -6 -1.4 -6.4 4.8 -2.6 0.9 -2.5 0 -3.5 -1.2 -2.5 -1.7 -1.9 -2.5 -0.9 -3 1.2 -9 0.9 -2.5 1.7 -2.1 2 -1.2 2 -0.6 3.5 0 4.5 1 1.5 -1.1 3.5 -7.5 0.5 -2.5 -0.8 -1.5 -4 -3.5 -1.3 -2.5 -0.2 -4 1.5 -5 2 -3 2.1 -2 9.3 -4 2.9 -4.7 4.1 -3.3 1 -2.5 0.7 -5 0.9 -2.5 3.8 -5.9 2.4 -5.1 8.4 -14.5 6.9 -17 5.9 -10 2 -7 3.4 -5 3 -2.4 10.5 -6.3 6.5 -2.5 5 -0.7 6.5 -1.9 5 -0.2 21 3 5.5 -0.3 1 -1.2 0.8 -4 3.3 -7 2 -3 3.1 -3.5 2.6 -4.5 1.7 -1.3 4.5 -2 6 -4.1 4.7 -1.6"/>
<path d="M248.6 461.5l2.4 -0.1 7 0.9 6 2.5 2.5 2.1 2.9 3.6 2.3 3.5 1.1 3 0.2 4.5 -0.6 4 -4.6 10.5 -1.8 2.2 -4 3.2 -6.1 2.6 -0.6 1 5.9 8 2.9 5 4.9 4.5 2 3.7 0.2 1.8 -0.9 2 -3.8 3.3 -2.5 1.3 -2 0 -3 -0.9 -4.5 -2 -4 -2.7 -6.2 -5.5 -6.3 -6.9 -2.6 -3.6 -2.8 -2.5 -7.6 -5.6 -14 -6.8 -2.5 -2.7 -1.7 -3.4 0.1 -2 1.3 -2.5 8.6 -10.5 0.3 -1.5 -0.5 -3 0.9 -1.6 6 -2.3 13.5 -2.1 4 -2.5 7.6 -2.5"/>
<path d="M298.5 570.5l4 -0.3 3.5 1.6 3.5 4.2 6.1 6 2.3 4.5 0.3 2.5 -0.3 3.5 -1.3 4 -2.6 2.4 -4.5 3 -2.5 1 -4 0 -3.4 -1.9 -1.7 -2 -2.6 -5 -5.8 -3.8 -2.1 -4.7 -0.1 -2.5 2.1 -8.5 0.7 -1.5 1.9 -1.4 6.5 -1.1"/>
<path d="M402.5 639.4l-2.2 1.1 -1.2 2 0.4 2.1 1.5 1.3 2 -0.1 2 -0.8 2 -2.5 -0.1 -1 -1.4 -1.5 -1.5 -0.7 -1.5 0.1"/>
<path d="M369.4 679l3.6 -0.3 8.9 1.8 8.6 6.3 6.5 2.7 11 5.7 14.5 5.7 5 4.2 7.1 7.9 1.2 3 -0.7 2.5 -3.1 3.2 -2.5 1 -9 -1.7 -10.3 -4.5 -12.2 -7.7 -9 -3.6 -7.3 -5.2 -6.3 -2.5 -7.2 -6.5 -3.2 -5.5 -0.1 -1.5 0.9 -2 1.2 -1.5 2.4 -1.5"/>
<path d="M241.8 705l1.2 -0.2 1 0.5 4.6 5.2 2.2 6 4 7 3.2 4.5 0.3 1.5 -0.4 1 -1.4 -0.2 -2 -2 -5.4 -6.3 -1.7 -4 -3.2 -3 -3 -8 0 -1 0.6 -1"/>
<path d="M288 742l2 -0.4 2 0.4 3.5 2.6 2.1 3.4 0.6 4.5 0.7 1.5 3.9 3.5 5.3 7 2.8 5 5.1 4.5 7.4 9.5 4.3 8 2.2 5.5 -0.1 1.5 -0.8 2 -3 3.3 -2 0.8 -2.5 0.2 -2.5 -0.6 -1.5 -1.1 -4 -7.7 -7.1 -10.9 -2.4 -5.4 -1.7 -2.1 -8.6 -8 -5.9 -8 -4.3 -8.5 -0.8 -3 0.4 -2 1.7 -3 1.4 -1.5 1.8 -1"/>
<path d="M388.5 776.5l-3.5 0.3 -2.4 1.2 -2.6 4.2 -2 1.8 0.1 0.5 7.4 5.1 2.9 3.4 4.1 3 1.1 2 1.1 4.5 1.6 2 2.2 0.6 6 -1.1 0.9 -1 0 -1.5 -2.4 -4.5 -1 -4.6 -5.8 -8.4 0.3 -1.6 1 -1 3 1.3 1 -0.4 0.8 -1.8 -0.3 -1.9 -1 -1.1 -1 -0.1 -2 1.4 -1 0.2 -4.5 -2.5 -4 0"/>
<path d="M417 809.2l0 1.1 0.8 0.2 0 -1 -0.8 -0.3"/>
<path d="M380.4 824.5l-0.9 -2.5 -3.5 -2.8 -1.2 -1.7 -0.9 -2.5 -0.1 -4.5 -3.8 -3.8 -1.6 -4.7 -1 -1.5 -3.9 -2.2 -3 -2.9 -1.5 -0.7 -2.6 1.3 -1.4 3.4 -2.5 -0.4 -5 -4.8 -5.1 -6.2 -1.6 -3.5 -1.7 -7 0.1 -1.5 2.3 -4.5 0 -1.5 -0.8 -2 -1.9 -2.5 -4.3 -2.8 -4.5 -1 -1.5 -0.9 -1.5 -4.3 -2.9 -3 -0.7 -1.5 0 -2.5 1.6 -5 1 -1.1 3.7 -2.4 1.9 -3 0.1 -1 -4 -3.5 -3.2 -6.4 -1.5 -1.7 -2 -0.4 -6 1.4 -2 -0.4 -2 -1.3 -2.5 -4.2 -0.7 -6.5 -0.7 -1.5 -2.3 -2 -4.3 -2.3 -1.4 -1.7 -0.5 -2 1.1 -5.5 -2 -5 0.4 -2.5 1.9 -1.9 4.5 -0.1 2.5 -1 0.7 -1 -0.2 -2.5 0.5 -2 2.5 -3.3 2.5 -2 3 -0.1 6 3.9 5.5 0.9 1.5 1.7 2.5 5 1.5 1.5 6.9 1.9 12.3 7 4.8 2.2 3.5 2.5 5.3 5.8 0.3 1.5 -0.6 8 1 1.8 2 1.6 5.5 1.4 5 3.2 2.5 0.1 0.2 -1.1 -2.4 -5 0.4 -3.5 1.3 -2 2 -1.4 2.5 -0.6 2 0.1 16 9 5.5 2.6 6 5 4.8 2.8 1.6 1.5 1 4 -0.4 4.5 -2 3.9 -1 0.7 -1.5 0.3 -2 -0.9 -4.6 -3.5 -4 -4 -8.9 -5.5 -6.8 -2.5 -4.2 -0.8 -0.6 0.8 -0.8 5.5 1.2 6 -0.2 3 -0.9 2 -4.3 5 -1.3 2.5 0.9 3 2.5 2.9 5.7 2.6 7.3 2.3 0.7 -1.3 0.1 -7 1 -2 2.2 -0.9 2.5 0 2 0.9 1 1.2 0.4 1.3 -0.2 3.5 2.4 4.5 1 7 2.3 6.5 0.1 3.5 4.5 3.5 2.5 2.7 1.9 7.3 2.9 6 -0.7 2 -4 6 -0.8 5.5 -2.4 4.5 -0.9 3"/>
<path d="M364.8 224l2.7 -0.5 2.5 0.4 2.2 1.1 2.3 2 1.6 3.5 0.7 4 -0.3 2.5 -2 3.8 -4.6 3.2 -5.2 5.5 -1.7 7.8 -4.5 4.4 -1.5 5.3 -4.3 4.5 -0.1 4 2.1 9 0.1 8.5 -0.8 1.9 -1.2 1.1 -2.8 1 -2 -0.1 -2.5 -1.3 -1.5 -1.6 -0.7 -2 -0.4 -4 -0.9 -1.4 -8.5 0.9 -2.5 -1 -2.1 -2 -2.3 -4.5 -1.7 -7.5 0 -2.5 1 -2.5 2 -2.5 2.1 -1.5 5.2 -2.5 2.3 -4.1 4.5 -3.2 6.3 -7.2 3.2 -2.9 1.5 -2.5 4.1 -10.1 4.4 -5 3.3 -2"/>
<path d="M420.1 276.5l11.4 0.5 10.5 5.4 5.5 0.9 4.3 4.2 5.1 9 0.6 2 -0.1 1.5 -1.3 3 -0.2 1.5 0 4.5 1.9 5.5 -0.9 7 -2.3 4.5 -4.6 4.8 -8 4.2 -4 1 -1 0.8 -2.7 9.2 -3.1 5 -6.3 7 -2.9 9.3 -3.5 6.2 -1.8 7 -4.7 7.5 -1.9 7.5 -0.3 4.5 -0.7 2.5 -4.6 7.8 -4.2 2.7 -1.3 6.5 -2.4 5 -1.6 1.7 -6.3 4.3 -5.7 3.1 -4.5 3.8 -6 2.8 -3 5.3 -2.8 3.5 -0.5 2.5 1.7 4.5 0.4 7.5 -4.3 14.9 -5.8 15.6 -0.4 4.5 0.7 1.8 3.5 1 1.5 1 3 4.7 2.8 3.5 2.3 6.5 5.6 8.5 5.2 11.5 2.3 7.5 0.2 2 -0.8 2 -2.1 2.5 -0.2 1.5 7.7 13 3.1 8.5 -0.8 5 0.2 1.5 2.7 4 2.3 1.8 4.5 1.7 12.5 8.2 7.5 3.2 16.5 1.7 6 2.6 6 0.3 5.5 1.6 3 1.9 3 3.9 2.5 2.2 2 0.9 5 0.5 2.5 1.9 1.7 2.1 0.5 2.5 -0.7 2.7 -3.7 5.3 -1.4 5.5 -3.4 3 3 3.7 2.1 4.3 0.4 3.5 -0.9 3 -6.1 5.9 -11 6.5 -4 3.4 -1.5 0.6 -8 -2.7 -4 -2.6 -5.8 -5.1 -4.8 -8.5 -4.4 -2.2 -5 -4.8 -4.5 -1.5 -5.5 -5.1 -5 -3 -4.9 -3.9 -2.9 -3.5 -4.2 -3 -3.1 -4 -6 -3 -6.4 -7 -4.5 -2.6 -2.5 -2.2 -2 -0.5 -6 0.1 -4 0.5 -5.5 -1.8 -8 -0.2 -3 -0.8 -5.3 -2.5 -1.4 -1.5 -0.6 -2 1.2 -8 0 -3.5 0.6 -1.5 2.4 -2.5 0.1 -1 -7 -0.1 -4.9 -1.4 -5.5 -4 -2.7 -4 -2 -6.5 -1 -8.5 1 -9 -0.3 -8.5 -2.2 -12 -0.4 -7.5 -2.7 -11.5 -1 -8.5 2.1 -11 3 -8 2.4 -10.5 2.4 -5.5 1.7 -5 0.1 -6.5 1.3 -7.5 1.2 -3 3.2 -5 2 -6 -0.2 -2.2 -2 -1.2 -5 -0.3 -9 -4.5 -7 -0.9 -1.2 1.1 -0.9 4.5 -2.4 5.7 -4 6.3 -3.9 3.5 -1.1 5 -3.5 3.7 -2 0.8 -2 0 -5.5 -2.2 -5 5.8 -2.5 1.4 -2.5 0.5 -3 -0.7 -2.5 -1.5 -1.5 -1.9 -0.7 -2.4 1.7 -9 2 -3 3 -1.3 3.5 0.4 3.5 1.5 3 3.3 0.5 0 0.9 -1.9 0.4 -4 0.8 -2 1.4 -1.4 3 -1.3 1.3 -1.3 0.4 -2.5 -1.3 -3 -7.4 -5.3 -1.8 -2.2 -0.3 -3 1.3 -4 3.3 -5 10.6 -4.5 6.4 -5.7 1.7 -3.8 0.8 -6.5 1.2 -3.5 5.3 -9 5 -6 1.1 -5.5 2 -3.5 2 -6 2.5 -4.5 3.6 -8.5 5.9 -8 2 -6.5 3.4 -5.3 6 -3.6 5.5 -4.2 12.5 -5.1 5 -1.6 4.5 -0.1 14.5 2.8 8 0.6 7 -0.6 1.1 -0.9 1.8 -3 1.8 -6.5 3.3 -5.6 5.4 -3.9 2.5 -3 5.6 -5.1 2 -1.3 2.1 -0.6"/>
<path d="M248 464l3 0 5.5 2 5 0.5 2.5 1 3.5 4 3.3 7 0.3 3.5 -0.6 3 -3.4 6 -2.1 5.3 -5 4.4 -6.7 1.8 -1.9 1.5 0.6 1.5 5 5 4.3 8.5 5.5 4.5 2.2 3 0.2 2 -0.8 1.5 -2.8 2.5 -2.1 1 -2 0 -2.8 -1 -3.9 -2 -2.6 -2 -6.7 -6.7 -7.8 -10.3 -3.7 -3.7 -4.5 -1.3 -4.5 -2.7 -12.5 -6.3 -2.5 -2.3 -2 -3.2 0.1 -2 1.3 -2.5 8.5 -10 0.6 -4 1 -1.5 2.5 -1.1 3 -0.7 11.5 0 2.4 -1.2 4.1 -3.4 5 -1.6"/>
<path d="M298.5 573l4 -0.3 2.5 1.4 2.2 3.9 3.9 5 2.6 6.5 0.8 3.5 -0.7 2.5 -4.3 3.4 -3 1.5 -2.5 0.1 -2 -1.1 -1.7 -1.9 -2.7 -5 -3.6 -3 -3.5 -2 -1.4 -2.5 -0.1 -2 2.5 -8.4 2 -1.1 5 -0.5"/>
<path d="M359.2 617l3.3 0.2 3 1.3 11.9 10 7.6 0.9 7 4.1 0.9 1.5 0.1 2.5 -1.1 6 -2.7 3 0.7 5.5 -0.4 1.5 -1.5 0.3 -3 -1.4 -3.1 -2.9 -2.5 -4.5 -3.4 -1.6 -4.5 -1.3 -4 -4.4 -2 -1.5 -2.5 -1 -4.5 -0.1 -2.5 -1.9 -1.6 -2.7 -2 -6 1.1 -1.1 3.5 -0.5 0.3 -3.9 0.7 -1.2 1.2 -0.8"/>
<path d="M452.5 629.4l-1 0.6 -0.5 1 1 2.8 2 1.2 2.3 -0.5 0.3 -1.5 -1.2 -3 -1.4 -0.9 -1.5 0.3"/>
<path d="M400.3 655l3.7 0.3 3 4.6 0.5 2.6 -1.5 1.9 -2 0.8 -2 0.1 -4 -0.3 -1.9 -1 -0.2 -1.5 1.6 -5.1 1 -1.5 1.8 -0.9"/>
<path d="M371.9 683l1.6 -0.3 2 0.6 13.5 6.5 4 1.3 4 2.9 15.5 6.4 6.5 1.9 4.5 2 4.5 3.2 5.5 5.5 1.3 2.5 -0.3 2.1 -2 2.1 -2 0.7 -8.5 -1.7 -7 -4.1 -6 -2.2 -9.5 -6.4 -6 -1.4 -3.4 -1.6 -6.8 -5.5 -5.3 -1.6 -3 -2.3 -4.5 -5.1 -0.8 -1.5 0.3 -2.4 1.9 -1.6"/>
<path d="M317.8 689.5l2.2 -0.3 2.6 1.8 0.5 1.5 -0.7 2.5 0.6 0.9 1.5 0.1 2.5 -1 3 1 4 5.6 1.5 1.3 2 0.1 5 -1.2 10.5 1.6 2.6 2.6 0.3 1.5 -0.4 1.5 -1.5 1.3 -10 1.3 -5 -1 -3 0.3 -2 -1.3 -2 -3.6 -2 -0.3 -5 2.2 -4.5 0.4 -1.5 0.7 -1.9 2.5 -0.6 4.6 -1 0.9 -1 -0.2 -0.4 -1.3 0.3 -3 -1.9 -3.2 -1.5 -1.5 -4.5 -1.6 -0.8 -1.2 2.8 -3.1 3.5 1.1 1.5 -0.5 0.5 -1 -0.5 -4 0.4 -3 1.1 -2.1 2.8 -2.9"/>
<path d="M385.3 716.5l2.7 0.5 13 8.3 6.8 2.7 4.7 5.8 5.5 2.7 1.7 1.5 1.2 3 -0.9 2.9 -1.5 0.5 -1.5 -0.7 -6.4 -6.2 -5.6 -1.9 -8.5 -5 -7.5 -2.5 -2.5 -1.4 -3.5 -3.5 -1 -2.2 0 -1.5 0.6 -1.5 1.2 -1 1.5 -0.5"/>
<path d="M330.9 720l3.1 -0.3 7.4 4.3 0.6 1 -0.1 1.5 -2.4 5.4 -2.5 -0.1 -2.5 -2 -5.4 -7.8 0.2 -1 1.6 -1"/>
<path d="M351.6 726l2.9 0.4 3.5 2.3 1.5 0.5 2 -0.2 3.5 -1.5 7.3 1.5 1.5 1 1 1.5 0.4 2 -0.4 2 -3.8 4 -2.5 1.1 -1.5 -0.2 -6.5 -2.6 -7 0.7 -1 1.1 -1.6 3.4 -0.6 3 -0.3 0.5 -1 -0.1 -2.9 -2.9 -4.5 -3.5 -1 -1.5 -0.4 -2 1.3 -3.6 6.6 -5.4 3.5 -1.5"/>
<path d="M376.1 743l1.9 0 1.1 2 -0.1 3 -1.5 3 -2.5 1.9 -5.5 -0.6 -0.5 -0.8 0.6 -1.5 3.9 -5 2.6 -2"/>
<path d="M288.7 745l1.3 -0.4 1.5 0.2 1.5 0.9 1.5 1.7 2 7.3 5.5 6 3.3 5.3 1 3.5 -0.3 2 -0.5 0.8 -3.5 0.1 -3 -1.7 -3.6 -3.2 -4.1 -6.5 -1.2 -2.5 -0.9 -4 -2.5 -5 0.3 -2.5 1.7 -2"/>
<path d="M370.5 761.5l1.5 0.4 1.7 1.6 0.5 1.5 -0.6 1 -2.6 0.4 -2.4 -1.9 -0.1 -1.7 2 -1.3"/>
<path d="M309 775l2.5 -0.1 2 0.8 2.5 4.4 3.5 2.5 1.6 1.9 1.7 4 3.2 5.2 1.2 2.8 -0.5 3 -2.2 2.4 -3 0.5 -2.5 -1 -2.5 -3.2 -4 -6.7 -5 -13.5 0 -2.1 1.5 -0.9"/>
<path d="M347.8 778l2.2 0 1.4 1 0.3 1 -4.1 4 -1.1 0.1 -1.3 -1.1 -0.2 -2 1 -1.6 1.8 -1.4"/>
<path d="M405.8 786.5l0.7 -0.3 1 0.8 3.6 4.5 -0.2 1.5 -2.4 5.5 -1.5 -1.1 -1.8 -4.9 -0.3 -3.5 0.9 -2.5"/>
<path d="M409.3 808.5l2.1 1.5 1 2.5 -0.9 2.3 -2 0.7 -1.5 -0.7 -0.5 -1.8 0.5 -3 1.3 -1.5"/>
<path d="M387.3 819l1.7 0.1 1.3 0.9 0.2 2 -1 1.1 -1.5 0.1 -1 -1 -0.5 -2.2 0.8 -1"/>
<path d="M400.1 824.5l0.5 -1 3.2 -2 1.7 -1.9 1.5 -0.5 1.5 0.6 1.7 1.8 0.2 3"/>
<path d="M365.3 226l4.2 -0.1 3.2 2.1 1.7 3.5 -0.1 4.5 -1.8 3.5 -5.5 2.9 -2.8 3.1 -4 3 -0.8 5.5 -6.4 10.7 -1.5 1.1 -3.5 0.8 -0.1 0.9 2.4 4.5 -0.6 7 1.8 3 0.4 2.5 -0.9 8.5 -1.5 1.1 -2 -0.1 -1.8 -1.5 -0.9 -6 -1.2 -2 -1.1 -0.1 -8 1.8 -2 -0.5 -2.2 -1.7 -1.3 -2 -0.9 -2.5 -1.5 -7.5 0.1 -2 0.9 -2 1.9 -2.2 2 -1.3 6 -2.5 2.5 -3.7 2.5 -1.6 5 -5 3.6 -2.2 8.4 -16.7 3.4 -5.3 2.4 -1.5"/>
<path d="M419.8 279.5l10.7 0.2 6 2.8 3.5 4.6 2 0.4 4.5 -0.7 2.5 1.4 1.4 2.8 2.1 7.5 0 4 1.1 3.5 0.2 4.5 1.8 5 -0.7 5 -2.1 4.5 -3.8 4.2 -7.5 3.3 -4 0.6 -1.5 1.1 -2 9.3 -0.9 2.5 -3.2 5 -6.8 7 -2.6 7.5 -3.9 6.5 -0.9 5.5 -1.2 3 -1.5 2.2 -3 2.6 -1 1.7 -0.6 5 -1.1 4 0.1 3.5 -0.6 2.5 -3.3 4.4 -4.5 1.9 -1.5 1.9 -0.5 2.3 0.2 5.5 -2.3 5 -2.4 2.2 -11.5 5.6 -3.5 5.1 -7.1 3.6 -2.6 4 -3.3 4 -0.5 4.5 2 4.5 0.3 8 -3.5 12.5 -2.6 4.5 -1.6 6.5 -2.5 6 -0.3 6 0.3 1.5 0.9 1 4 0.9 1.5 1.1 1.8 3.5 2.6 3.5 3.1 7 5 8 1.9 8 3.1 5.9 1 3.6 -0.4 2.5 -3.3 5.5 0.1 1.5 1.7 3 -0.1 4 1.5 1.6 4 1 1.9 2.4 1.4 4.5 2.5 5 -1.4 6 0.2 1.5 0.7 1 3.2 2.5 4.5 4.6 2.5 1.4 4 0.9 3.5 2.6 1.6 2.5 -0.2 3.5 3.1 2.8 2.5 0.2 5.5 -1.8 4.5 0.6 4.5 2.1 7.5 -1.5 2.5 0.8 5 3.5 6 -0.9 2.7 0.2 2.3 1 3 2.4 5 6.7 1 0.4 4 0 1.9 1.5 -0.2 2.5 -3 4 0.1 6 -1 1.5 -3.8 0 -2.5 -1.5 -0.8 -1.5 -0.9 -4 -1.4 -3.5 -1 -1.5 -1.4 -1.1 -1 0.1 -0.5 0.5 -0.3 3.5 -0.6 1.5 -2.8 2.5 -0.2 1.5 0.7 4.5 2.2 3.7 2.7 1.3 1.8 -0.1 4 -1.3 3 1.3 3.5 2.2 1.5 1.7 1.6 3.2 0.5 3.5 -0.8 3 -4.2 4.5 -14.6 8.4 -1.5 0.5 -9.5 -3.6 -6.1 -4.8 -1.3 -2.5 -0.3 -5 -7.1 -5.5 -0.7 -4.3 -0.5 -0.9 -10 -1.2 -2.5 -1.2 -3.5 -3.7 -4 -2.4 -7.5 -6.8 -5 -3.5 -3.4 -4.5 -5.1 -2.6 -4 -4.4 -3 -4.4 -4 -1.4 -3.5 -2.3 -5 -1.8 -2 -4.4 -1.5 -1.7 -1.5 0.4 -1 2.1 -0.6 3 -0.9 1 -1 0.3 -11 -0.6 -6.2 -2.2 -1 -1 -0.4 -1.5 0.1 -8 2 -5 2.5 -3.5 -0.3 -1.5 -1.7 -0.7 -8 1.1 -4.5 -0.6 -3.2 -1.8 -5.3 -5.1 -1.3 -2.4 -0.9 -3.5 -0.5 -6.5 -0.7 -3.5 1.3 -8.5 -0.3 -9.5 -0.8 -7 -3.7 -19 -1.3 -4 -0.8 -8 1.6 -5 0.4 -5.5 3.2 -8 2.3 -10.5 2.6 -5.5 1.6 -5 0.3 -8.5 0.9 -6.5 1.4 -3 3.6 -4.5 2.4 -4.5 0.5 -2.5 0 -4 -4.3 -3.1 -5.5 -0.7 -11.5 -3.9 -3 -1.8 -2 0.9 -3.6 3.1 -1.5 4.5 -1.9 2.8 -4.5 4.4 -2 0.5 -1 -0.5 -0.9 -1.2 -0.9 -5.5 -0.7 -1.5 -5 -2 -3 -1.9 -2.2 -2.1 -0.6 -2 1.2 -4.5 2.8 -4 12.5 -5.5 5.3 -5.3 1.5 -3.7 0.9 -6.5 1.5 -4.5 3.8 -6.5 4.8 -4 1.2 -1.5 4.8 -16.7 2.7 -4.3 1.8 -4.3 2 -2.7 1.6 -3.5 4.5 -6.5 3.1 -7 2.3 -3.7 4.4 -2.3 3.4 -4 2.2 -1.7 6 -2.4 5 -3.2 5.5 -2 3 -0.3 6 1.1 10.5 2.9 17 -1.1 5.3 -2.8 0.9 -1 -1.2 -6 3 -6 1.5 -1.1 3.5 -1.2 3 -3.9 5.5 -5 1.8 -0.8"/>
<path d="M265.2 439l2.8 -0.2 3 1 1.5 1.5 0.8 2.2 0.1 4 -0.6 2 -2.6 3.5 -2.7 1.2 -2.5 -0.1 -2 -0.9 -1.3 -1.2 -0.6 -1.5 1.4 -8.5 1.2 -2 1.5 -1"/>
<path d="M283.9 439.5l1.1 -0.1 1 0.6 0 2.5 -2 2.8 -2 1 -0.8 -1.3 0.2 -3 0.8 -1.5 1.7 -1"/>
<path d="M247.4 466l3.1 0.1 6 2.1 5.3 0.8 1.7 0.8 2.5 3.2 3.1 7.5 0.2 2.5 -0.6 2 -3.7 4.5 -1.5 5 -2.2 3 -3.2 2 -4.6 0.3 -2 0.5 -3 1.5 -0.8 1.2 2.3 4.5 3.5 2.4 1.5 1.6 2.6 5.5 2.4 3.4 1.5 1.6 3.7 2.5 1.5 2 0.4 1.5 -0.5 1.5 -1.8 2 -1.8 0.9 -1.5 -0.1 -2.3 -0.8 -5.2 -3.6 -7.8 -8.4 -11.2 -14 -2 -0.7 -4.5 -0.4 -7.6 -3.9 -7 -4.5 -3.9 -4 -0.4 -1 0.9 -3 3.5 -4.4 4.6 -4.6 1.7 -4.5 1.2 -1.3 4 -1.2 9.5 0.6 2 -0.2 5 -2.5 3 -3 2.4 -0.9"/>
<path d="M299.4 575l2.6 0.1 1.5 0.9 3.8 9 2.7 2.8 1.1 2.2 0.6 2.5 -0.4 2 -1.8 1.8 -2.5 1.3 -2.5 0 -1.8 -1.1 -3.3 -5.5 -3.8 -4.5 -3.3 -2.5 0 -1.5 1.7 -6 1.5 -1.1 3.9 -0.4"/>
<path d="M383.4 635.5l2.1 0 1.1 1 0.4 1.5 -1 0.3 -1.6 -0.8 -1 -1 0 -1"/>
<path d="M378 689.5l1.5 -0.1 5.5 1.5 16 8.2 6.5 1.5 10 5.2 6 1.3 4.5 2.4 4 3.1 1.7 2.4 0 2 -1.2 1.3 -2 0.4 -9 -2.5 -5.5 -4.8 -5 -2.4 -3.5 -2.9 -4 -1 -4 -2.2 -4.5 -0.6 -2 -0.8 -5.7 -5.5 -5.3 -3.3 -3.3 -1.2 -0.8 -1 0.1 -1"/>
<path d="M385 719.5l2 -0.2 3.5 1.8 5 3.9 1.2 2 -0.7 0.4 -2 -0.3 -5.5 -1.9 -3.5 -3.2 -0.5 -1.5 0.5 -1"/>
<path d="M400.1 729.5l1.4 -0.5 4 0.9 1.6 1.6 0.7 2 -1.3 0.4 -3 -1.2 -2.3 -1.7 -1.1 -1.5"/>
<path d="M290.4 749l0.6 -0.2 0.5 0.5 0 1.7 -1 -0.5 -0.1 -1.5"/>
<path d="M293 755l1 0.1 3.1 4.4 4.2 4 1.9 4 -0.2 1.9 -2 -0.3 -3 -2.9 -2 -5.2 -2.5 -3 -0.5 -3"/>
<path d="M314.5 785l2 -0.1 1.5 0.7 2.2 4.4 4.2 5.5 0.5 2.5 -1.4 1.9 -1.5 0.3 -1.6 -0.7 -3.4 -4 -2.5 -3.8 -0.9 -3.2 0.3 -2.5 0.6 -1"/>
<path d="M366 228l3 -0.2 2.4 1.7 0.9 3 -0.8 3.7 -1.5 1.6 -4 1.2 -4.4 5.5 -4.6 2.3 -0.7 -1.3 1 -3.5 5.2 -7.5 2 -5.2 1.5 -1.3"/>
<path d="M354.5 252l0.9 0.5 -0.1 1.5 -2.8 5.5 -2.5 1.8 -3.5 1.3 -2 0.2 -1.1 1.2 0.6 2.5 4.3 6.5 -0.5 3.5 -1.8 4.5 -1 0.8 -8.5 2.9 -2 0.3 -2 -0.7 -2 -2.2 -1.2 -3.1 -1 -7.5 0.7 -2.5 3 -2.6 5 -1.7 3 -1.6 1.2 -2.1 2.8 -1.3 2.9 -4.2 1.6 -1.4 6 -2.1"/>
<path d="M429.6 283.5l1.9 -0.2 2.2 0.7 1 1 1.9 3.5 1.9 1.3 2.5 0.4 4.5 -0.6 1.2 0.4 0.8 1 1.2 4.5 -0.7 3.5 -1 0.3 -3.5 -2 -2.5 -0.8 -1 0.2 -1 1 -0.6 2.3 0.6 1.5 1.5 1 6.5 -1.4 4.2 4.4 0.6 1.5 0.4 4 1.1 5 -0.8 5.5 -2 3.6 -3 2.7 -6 2.4 -1.5 0.1 -3 -0.8 -1.5 1.1 -2.6 12.9 -1 2.5 -3.6 5.5 -6.9 6 -3.3 4.5 -1.1 3.5 -3 6 -0.5 5 -0.7 2 -1.3 1.9 -2.8 2.6 -1.2 2.3 -1 3.2 -0.1 3.5 -0.6 2 -4.2 8 -3.6 3.2 -1.5 2.3 -1.3 5 0.3 5.5 -1.8 4 -2.2 1.8 -3.5 1.1 -3.5 1.9 -5.9 1.7 -1.2 4.5 -0.9 1.5 -7.4 4 -4.1 4.8 -3.3 3.2 -0.3 1 0.8 5.5 2.1 4.5 0.2 8.5 -3.4 10.5 -3.4 4.5 -0.5 6.5 -2.6 6.5 -0.5 5.5 0.9 4 2 1.5 3.5 1 4.5 6 6.7 13.5 3.1 16 1.9 4.5 -0.7 2.2 -2.5 2.4 -0.2 1.4 2.7 5.5 1.1 4 1.4 1.5 5 3.5 2 5.4 2.1 3.1 0 2 -2.7 4.5 0.1 2 1 2 1.5 1.2 3 0.5 1.5 0.8 1 1.5 0.8 3.5 1.2 2.7 1.5 0.4 4.5 -0.4 2.3 0.8 0.8 1 0.3 3.5 0.8 1.5 1.8 1.7 3.5 2.1 6.5 1.6 3 -1.7 2 -0.3 6 2.8 8 -1.4 2 0.6 1.1 1.6 -0.1 1.9 -4.5 4.5 -1.5 0.6 -3.5 -0.3 -1.2 0.8 0.2 1.5 4 5.5 2.5 1.9 6.5 0.5 4 2.8 1.2 1.8 1.4 5.5 1.8 4 0.9 1 4.7 0.7 4 -0.9 2 0.1 3.1 1.6 2.4 2.5 1 2.8 0.3 3.2 -0.7 2 -1.9 2.5 -3.2 2.4 -7 3.5 -6 1.5 -2.3 -0.9 -2.7 -3.2 -4.5 -1.8 -0.1 -0.5 1.6 -1.5 4 -2.3 1.3 -1.7 -0.2 -2.5 -2.3 -3 -1.3 -0.4 -3.5 1.4 -3.5 0.2 -7 -4.2 -1.3 -2 -1 -6 -1.2 -1.4 -2 0.2 -2.8 2.2 -1.2 0.4 -4 0 -3 -0.9 -3 -3.1 -4.5 -2.9 -4.5 -4.5 -8 -6.4 -3.3 -4.1 -5.4 -2.5 -4.3 -4.7 -3 -4.5 -10 -5.3 -5 -6.6 -1.5 -1.2 -3 -0.7 -2 0.2 -4.5 6.3 -2 1.4 -3 0.5 -2.5 -0.8 -2.4 -2.6 -1.3 -3.5 -0.2 -3 0.9 -2.8 1 -1.3 1.5 -0.5 3 0.8 3 1.6 1.2 -0.3 -0.2 -1 -5 -7.8 -3 -2.4 -7.5 1.7 -4.5 0.3 -2.3 -0.3 -1.8 -1 -7.1 -6.5 -1.5 -4 0 -6 -1.3 -5 0.3 -2.5 1.4 -5 -0.6 -13 0.4 -5.5 -3.6 -10 -1.3 -7 -1.4 -4.5 -0.3 -6 1.7 -5 0.5 -7 2.6 -6.5 2.9 -11 2.7 -7 1 -6 0.5 -9 0.7 -4.5 2.5 -3.9 5.5 -4.6 2 -6.2 3.5 -2.5 1.1 -1.3 0.4 -2.5 -1.1 -3.5 1.2 -2.5 0.2 -1.5 -0.8 -1.4 -1 0 -1 1.1 -1.5 3.4 -1.4 0.9 -1.6 0.2 -4 -1 -12 -0.5 -5 -2.4 -3 -3 -2 -0.2 -2 1 -5.9 5.4 -2.6 4.5 -4 3.4 -0.5 -0.2 -0.7 -3.2 -0.9 -1.5 -5.4 -1.1 -2.5 -1.1 -2.7 -2.3 -0.9 -2.5 1 -3.5 2.6 -3.3 7 -3.5 6 -2.2 4.9 -5.5 2 -5 1.5 -8 2.9 -6 1.7 -2.2 4.4 -2.8 1.6 -2.1 2.3 -6.4 1.1 -6.5 1.8 -5 5 -7 4.4 -3.5 1 -2.5 0.8 -5 5.1 -11.1 1.5 -1.6 3.5 -1.8 4.5 -5.6 6.5 -3.4 4.9 -3.5 6.1 -2.2 8.5 1.3 11 3.7 10 -1.6 7.1 -0.2 4.4 -1.5 5.5 -0.5 2 -1.4 2.5 -4.7 3.9 -3.9 -0.1 -2.5 -2.7 -4 0.6 -2 1.8 -1 4.2 -0.5 1.8 -1.2 1.5 0.6 1.5 -0.2 5.1 -2.2"/>
<path d="M266.3 441l1.7 -0.2 2 0.7 1.1 2 -1.1 6.5 -1.2 1.5 -1.8 0.7 -2.6 -0.7 -1.2 -2 1.3 -6.5 0.5 -1 1.3 -1"/>
<path d="M247.1 468.5l2.4 -0.3 13 3.6 2.5 3.1 2.3 6.6 -0.3 3 -5 5.5 -1 2 -0.7 3 -1 1.5 -2.3 0.9 -4.5 -0.5 -2.5 0.5 -3.2 2.1 -1.7 3 3.4 7 4.5 3.2 2.9 4.8 4 5 4.6 4 0.1 2.5 -1.1 1.4 -1 0.5 -1.5 -0.1 -1.5 -0.8 -6 -5 -6.1 -7 -2.6 -4 -6.8 -7.3 -2 -3 -4.5 -1.3 -4 0.1 -3.2 -1.5 -3 -2 -2.6 -2.5 -4.5 -6 0.3 -1.8 3 -3 3 -5.1 1.2 -4.1 1.3 -1.7 3 -0.9 10 0.1 7.9 -1.5 3.2 -4"/>
<path d="M347.5 556.5l-2.3 1 -0.6 1 0.4 0.5 4.5 -0.7 0.2 -0.8 -0.5 -0.5 -1.7 -0.5"/>
<path d="M298.8 577.5l1.7 0.4 0.4 1.1 -1.3 4 -1.1 0.4 -1.9 -0.9 -0.5 -1.5 0.7 -2.5 2 -1"/>
<path d="M305 590l2.5 -0.2 1.2 1.2 -0.2 2.5 -2 1.5 -2 -0.4 -1 -1.4 0 -1.7 1.5 -1.5"/>
<path d="M397.5 603.4l-1.8 1.6 0.3 1.3 1.5 -0.1 1.5 -1.6 0 -1.1 -1.5 -0.1"/>
<path d="M455.4 614l1.1 -0.3 1.5 1.1 0.8 1.7 -0.3 1 -1.5 0.1 -1.6 -1.1 -0.6 -1.5 0.6 -1"/>
<path d="M444.4 618l1.1 -0.4 1.5 0.5 1.2 1.9 0.3 2 -0.4 1 -1.1 0.9 -3 0.6 -2 -1 -0.5 -2 0.8 -1.5 2.1 -2"/>
<path d="M419.3 709l3.2 0.1 7.5 3.5 2.3 1.9 0.4 1 -0.2 1 -1 0.7 -1 -0.1 -4.5 -1.9 -4 -1.1 -2.9 -3.1 -0.3 -1.5 0.5 -0.5"/>
<path d="M367 231l1.5 -0.3 0.6 0.8 -0.1 1 -0.9 1.5 -1.6 0.4 -0.5 -0.4 0 -1 1 -2"/>
<path d="M332.2 269l2.8 -0.2 6 1.8 1.5 0.9 2.5 2.2 0.7 1.3 -0.1 2 -1.1 2 -2.5 2 -5.5 2.3 -2 0.3 -1.5 -0.7 -2.1 -2.9 -0.9 -5 0.3 -4 1.9 -2"/>
<path d="M427.2 287l1.8 -0.4 1.5 0.2 2.5 2.2 3.1 5 0.6 6.5 1.8 2.9 2 1.1 3 0.3 6 3.3 1 2.6 0.6 3.8 -1.1 7.5 -1.5 2.2 -2 1.2 -3.5 0.4 -2 1 -4 -1.9 -1 0.2 -1.2 0.9 -1.4 2.5 0.2 5.5 -1.7 9 -2.4 5.5 -4 4.6 -9.4 5.9 -4.2 5.5 -0.6 2 0.4 3 -1.4 7 -0.8 1.5 -3 3 -2 7 -0.2 5 -9 12 -1.8 9 0.3 4.5 -1.2 2.5 -1.6 1.2 -3.5 0.8 -4.5 2.1 -6.5 0 -2.2 0.4 -0.2 1 1.6 4 -0.4 2.5 -1.7 1.5 -6 3 -4.7 5 -4.4 3 -0.6 1.5 2.1 4 0.8 3.5 1.3 2.5 -0.3 4.5 1 5 -3.3 9 -1.5 1.4 -2.5 1.1 -1.3 2 -0.1 1.5 1.2 3 0.3 3 -0.4 2 -1.7 3.7 -0.8 4.3 0.3 6 1.5 2.5 3.5 2.6 1.6 1.9 3.9 2.5 2.2 5 3.4 6 0.7 4 0 4.5 2 4 0.5 3.5 -0.9 3 -2.4 3.5 -1.4 4 0 1.5 0.5 1 3.4 2.2 2.6 3.3 2.1 4.5 3.8 2.9 1.2 1.6 1.4 5 2.2 4 -1.8 4.5 0.6 3 1.4 2.8 4.8 5.7 0.4 2.5 -0.9 2.5 2.6 2 1.1 1.5 -0.1 1.5 -2.8 5 -2.1 1.8 -1.5 0.3 -5.5 -4.2 -1.6 -4.4 -9.8 -4.5 -1.6 -3 -2.5 -2.2 -1.5 -2.3 -7 -2.5 -2.6 -1.5 -5 -5 -6.4 -9 -1 0 -3 1.9 -2.5 0.8 -8 0.2 -8.3 -6.4 -1.7 -3 -0.1 -6.5 -1.6 -5.5 0.4 -2.5 2 -5 -0.5 -3.5 0.3 -4 -1 -4.5 1 -6.5 -4.3 -10.5 -2.5 -10.5 0.1 -4 2.2 -6.5 0.3 -8 4.5 -14 2.6 -6.5 1.9 -19.5 0.8 -3.5 1.8 -2.5 2.6 -1.8 2.5 -0.8 5 -0.6 1.6 -1.3 0 -1.5 -1.4 -4 2.8 -6 0.9 -4.5 1.3 -3.5 -0.9 -6 1.7 -3.5 -0.4 -2.5 -2.1 -2.5 -1 -0.1 -1.4 1.1 -2.2 2.5 -2.7 5 -1 3.5 -0.7 0.6 -3.5 -0.7 -10 1.8 -2 0 -4.3 -2.2 -3.2 -3.1 -2.5 -0.6 -3.1 1.2 -9.9 7.7 -2.5 -0.3 -5 0.7 -3 -0.7 -2.2 -1.4 -1.3 -2 -0.1 -2 1 -2.5 2.1 -2.1 6 -3.1 7 -2.6 1.6 -1.2 3 -4 2.9 -6.5 1.4 -7 2.9 -6 1.7 -2 4.5 -2.9 1.7 -2.6 2.6 -7 0.9 -5.5 2.2 -5 5.6 -5.9 3 -1.8 1.1 -1.3 2.2 -8 2 -3 1.6 -8 1.2 -1.5 3.8 -2 2.1 -3.6 2.7 -2.9 10 -7 5.3 -2.2 9 1.3 4.5 1.3 4.5 2.2 2.5 0.6 10 -2.2 9.5 0.1 8.5 -1.6 1.8 -1.5 2.7 -5.5 4 -2.7 0.6 -2.3 0.4 -4.6 5 -1.8 3.7 -2.6"/>
<path d="M358.5 347.3l-0.9 0.7 0.5 1.5 1.9 1.4 1.2 -0.4 0.7 -1 -0.2 -1 -1.4 -1 -1.8 -0.2"/>
<path d="M266.6 447l0.4 -0.2 0.5 0.4 0.3 0.8 0 1 -0.8 0.7 -1.2 -0.7 0.8 -2"/>
<path d="M252.1 472l2.9 -0.3 5.5 1.4 1.7 0.9 1.9 3 0.9 6 -0.9 2 -2.6 2.2 -2 1.2 -4.4 1.6 -0.2 1 0.9 2 -0.3 0.6 -1.9 -0.6 -2.2 -3.5 -1.9 -1 -1.6 0 -4.4 1.4 -2.3 1.6 -0.4 1.5 0.6 2 3 1.5 -1.8 5.5 3 7 0.4 1.5 -0.5 0.5 -2.5 -1.4 -3.8 -3.6 -0.8 -1.5 -0.2 -2 -0.7 -0.7 -6.5 -1.8 -3.5 0.2 -2 -0.7 -5.5 -5.5 -1.3 -3 1.3 -2.5 0.9 -4 3 -7 1.1 -1.2 3 -0.8 12.5 -1 7 1.1 1.4 -0.6 1.5 -2 1.7 -1"/>
<path d="M247.9 513l2.1 0.5 2 1.5 7.5 9.4 3 2.4 0.3 1.2 -0.3 0.6 -1 0.4 -1 -0.5 -6.2 -5 -5.7 -7.5 -0.8 -2 0.1 -1"/>
<path d="M345 553.3l-1 0.9 -2 4.3 1.5 5.7 1 1.5 1 -0.5 2 -2.8 4.2 -1.9 0.7 -1.5 -0.4 -2.3 -1.5 -2.1 -2.5 -1.1 -3 -0.2"/>
<path d="M384 597l-1.6 1 -0.2 1 0.3 0.3 3 0 1.8 -0.8 0.8 -1 -1.6 -0.6 -2.5 0.1"/>
<path d="M402 605l1 -0.4 1 0.2 5 2.9 4.5 1.4 4 2 2 0 3 -1.4 1.5 0.5 1.1 1.8 -0.6 2.5 0.2 1.5 2.3 4.4 5 6.3 1.5 1.2 2 0.8 4.5 -0.1 3.6 2.4 1.4 2 3.4 9.5 1.1 1.5 1.5 0.6 4.5 0.4 5.5 -1.5 2 0.7 1.5 1.2 1.2 2.1 0.7 3.5 -0.1 2 -1 2 -1.5 1.5 -2.3 1.3 -3.5 1 -2.5 1.2 -1.5 0 -5.8 -4 -0.1 -1.5 1.3 -4 -0.2 -2 -0.8 -1.5 -3.4 -3.1 -2 -0.7 -3.5 1.4 -1.5 -0.1 -7 -3.4 -1.6 -2.1 -1.3 -5.5 -1.6 -1.8 -1.5 -0.3 -6.5 0.7 -4 1 -7.2 -4.6 -1.8 -2 -2.2 -4.5 -5.3 -2.7 -4.6 -3.8 -1.1 -1.5 -0.1 -1 0.5 -1 4.3 -1.3 5 -5.7"/>
<path d="M332.7 271.5l2.3 -0.5 4 1.3 3.8 3.2 0.4 1 -0.2 1 -1.5 1.5 -4.5 2.4 -1.5 0.4 -1.5 -0.3 -1.5 -1.8 -1 -3.2 0.1 -3 1.1 -2"/>
<path d="M427.3 288.5l2.2 -0.2 2 1.7 0.9 2.5 0.2 4.5 2.1 4.5 1.8 2 4 3.3 6.3 2.2 1.7 1.4 0.7 1.6 0.2 2.5 -1.3 5 -1.1 1.5 -1 0.4 -10 0.2 -1.5 0.9 -2.9 3.5 -0.2 1.5 1.1 4 0.1 2.5 -0.8 5 -1.7 6 -1.7 3.5 -1.9 2.6 -6.5 4.4 -4.5 2.2 -5.6 7.3 -1 5.5 -2.7 3.5 -2.6 5.5 -0.2 4 -1 4 0 5 -6.9 8.3 -3.1 2.7 1 5.5 -1.6 5.5 0 3.5 -0.6 1.5 -1.2 0.9 -9 3.2 -6 -1.1 -3 -3.3 -1.5 0.2 -1.2 1.1 -0.8 2 0 2.5 1 1.6 3.5 3.4 0.3 1 -0.3 1.3 -2.7 2.2 -4.3 2 -5 5 -4 2 -1 1.1 -0.7 1.9 0.3 1.5 2.6 3.5 1.9 6.5 -0.1 4.5 0.9 3.5 -0.4 2 -2.2 4.5 -1.3 1.2 -5.5 -1.4 -2 0.5 -1 1.7 -1 5.5 -1 0.6 -2.5 -0.2 -0.9 0.6 -0.4 1 0.8 1.1 3 0 2.5 2.4 3.5 1 1 0.9 0.2 1.6 -1.4 4 -1.1 6 0.4 7 1 3 0.1 3 0.8 1.4 1 0.6 5 -0.2 2.1 0.7 0.9 1.5 0.3 4 2.8 3.5 0 1 -0.5 0.5 -4.1 2.2 -2.5 0.3 -1.5 0.8 -1.3 2.2 0 1.5 1.8 0.8 3 0 4 -3 1.5 -0.4 0.5 0.6 1 4.3 2.7 3.7 0.1 1.5 -0.8 1.9 -7.3 8.1 1.8 2.1 2 4.1 5.5 2.5 1.6 1.8 2 4 3.6 3 0.6 1.5 0.5 4.5 2.3 3.5 -0.8 5 4.1 9 0.3 2.5 -1.7 1.1 -3 -0.1 -5 -4.3 -0.7 2.8 1.3 3 -2.1 0.6 -2.3 -1.1 -1.5 -3 0 -1.5 1.1 -2.5 -0.1 -1 -1.7 -0.6 -7.5 0.1 -5 -1.6 -6.4 -5.9 -4.4 -6.5 -0.4 -1.5 0.5 -1.5 3.4 -5.5 3.2 -2.5 0.6 -2 -1.8 -8.5 -6.7 -9 -2.5 -0.4 -0.8 0.9 -1 5.5 0.9 6 -1.6 5 1.2 8.5 -1.3 2.5 -2.4 1.7 -2.5 0.4 -5 -0.3 -7.1 -3.8 -2.7 -3.5 -0.8 -7 -1.7 -4.5 0.1 -2.5 2.7 -5 0.4 -2 -0.7 -6 -1.4 -4.5 1 -5 -0.3 -2.5 -3.7 -10 -2.3 -9 0.1 -2.5 1.3 -4.5 3.3 -7 -0.3 -1.5 -1.6 -2.5 0 -2 2.9 -8 1.2 -5 2.6 -4.7 0.5 -12.3 1.1 -9 1 -3.5 1.4 -1.7 2 -1.2 2 -0.4 4.5 0.3 4 -1.5 1.3 -1.5 -1.2 -9 3.7 -11 0 -4.5 0.9 -5.5 -0.7 -4.1 -3 -3.6 -2 -0.7 -3 2.5 -3 1.4 -1.8 5 -2.7 2.9 -3.5 1.4 -8 1.6 -2 0 -2 -0.8 -4.5 -4.1 -2.5 -0.9 -3 0.8 -9.8 6.6 -7.7 2.3 -2.5 -0.1 -2 -1 -1.3 -1.7 -0.1 -2 0.9 -2.1 2 -1.6 5 -2.5 6 -1.9 4.5 -2.9 5.2 -10 1.4 -6 2.6 -5.5 1.3 -1.6 4.5 -3.7 3 -4.2 4.8 -15 1.7 -2 1.5 -0.8 4 0.7 2.4 -1.4 0.3 -4 3.9 -4.5 0.6 -3.5 1.9 -3.5 0.9 -10.4 4.5 -3.4 1.9 -4.2 5.4 -6 7.5 -5 3.7 -1.3 8.5 1.2 4.5 1.4 4.5 2.3 3 0.6 9.5 -2.3 12 0.4 6.5 -1.4 2.4 -1.9 1.6 -4.1 1 -1.4 4 -2.1 2.2 -6.9 3.8 -2.2 2.8 -2.3"/>
<path d="M358 345.9l-2.4 1.1 -0.6 1.5 2.1 3.5 0.6 3 0.8 0.5 2.5 -0.9 1.4 -1.1 1.4 -2.5 0.5 -2 -0.3 -1 -1 -0.8 -5 -1.3"/>
<path d="M254.5 474l5 0.5 1.5 0.8 1.1 1.2 0.6 2 0.2 4 -0.5 1.5 -1.4 1.2 -3 1.3 -3 0.7 -7 -0.6 -5.6 2.4 -2.9 2 -1.5 3.4 -2.5 3.3 -1 0.6 -2 -0.2 -3.5 -1.8 -3.5 -1 -2.9 -2.8 -0.5 -2 0.3 -6 1.6 -2.7 3.5 -4 3.5 -1.2 9 -0.7 8.5 2.1 2 -0.8 4 -3.2"/>
<path d="M344 512.5l-0.9 0.5 -0.5 1 0.2 1 0.7 0.4 1 -0.4 0.5 -1 0 -1 -1 -0.5"/>
<path d="M338.5 520.3l-1.1 1.2 -0.2 2.5 0.8 2 1.5 0.6 1.9 -1.1 0.6 -1.5 -0.9 -2 -2.6 -1.7"/>
<path d="M347.5 526.5l-0.8 0.5 -0.3 1 0.6 1.3 1 0.3 1.5 -0.9 0.4 -1.2 -0.9 -1.1 -1.5 0.1"/>
<path d="M403.5 608.5l2.5 0.5 4 2 10.9 3.5 2.6 4 1.6 4 2.9 2.1 2.5 3.4 4 2.4 4.5 0.4 1.9 1.2 2.2 3.5 -0.2 3 -0.9 0.6 -6 1.1 -2.5 -0.2 -1.5 -0.7 -1 -1.1 -1.3 -4.7 -2.4 -3.5 -1.8 -0.4 -4 0.5 -6 -0.7 -1.5 -0.6 -0.7 -0.8 -0.3 -2.5 -3.7 -3.5 -1.2 -2 -0.1 -1.5 1.3 -3 -0.8 -1.7 -1.5 -0.4 -1 0.4 -2 3.4 -1.5 1 -2.5 -0.3 -2.1 -1.9 -0.3 -1.5 0.7 -1.5 3.2 -3.3 2 -1.2"/>
<path d="M460.7 646l1.8 0.5 1.5 2.5 0.4 3.5 -1.1 2.5 -2.3 1.3 -4 0 -2.5 0.6 -2.7 -1.4 -0.8 -2 0.8 -4 0.6 -1 4.6 -0.6 3.7 -1.9"/>
<path d="M334.9 273l2.1 -0.1 2 1.1 1.3 2 -0.4 1.5 -3.4 1.8 -2 -0.5 -1 -1.8 -0.2 -1.5 0.5 -1.5 1.1 -1"/>
<path d="M427.5 290l2 0 1.3 2 -0.9 9.5 0.6 2.4 1.5 1.1 3 0 4.4 3.5 6.7 2 1.4 2 -0.2 3.5 -0.8 1.6 -1.5 1.1 -8.5 0.6 -2 1 -3.5 2.8 -2.6 0.9 0 1 2.5 5 0.6 3 -0.5 5.5 -2 6.5 -1.6 3.5 -1.9 2.3 -6.5 4.2 -3.5 1.6 -1.7 1.4 -4.8 6.5 -2 4.7 -3.1 2.8 -1.6 3.5 -0.9 4.5 -1 6.5 -0.1 5 -3.5 3.5 -2.7 4.5 -3.6 2.5 -0.7 1 0 1 2 3 0.4 2 -2.8 9 -1.9 1.5 -7 2.7 -4.5 -1.1 -3 -3.3 -2 0.1 -1.9 1.1 -1.9 2.5 -0.8 3 3.4 6 -0.3 2 -1.7 1.5 -4 1.5 -3.3 3.7 -5.9 3.8 -3.6 4.5 0.5 0.9 3.5 1.5 1.8 2.1 1.5 7 -0.3 3.3 -1 1.9 -3.5 1.7 -1.7 3.1 -3.3 2.2 -2.7 5.3 -3.8 3.3 -0.9 2.2 0.9 2.2 3.5 1.3 5.8 4 -1.2 9 -0.2 7 -0.8 2 -1.1 1.1 -5.5 2.2 -1.4 1.2 -1.6 2.3 -3.4 1.2 -1 3 0.5 6.5 2.3 6.5 2.4 4 0.4 1.5 -0.9 11 1.1 6 -1.6 5 0.4 8.5 -0.9 1.5 -1.8 0.6 -10.5 -2.3 -1.5 -0.9 -1.7 -2.4 -2.2 -8 -1.5 -3.5 0.2 -2 3 -5 0.4 -2.5 -1.1 -6 -1.5 -4 0.7 -4.5 -0.3 -3 -5 -15.9 -0.3 -3.1 2.3 -6.8 3.4 -5.7 -0.1 -2.5 -2 -4 -0.3 -1.5 1 -3.5 2 -3.5 0.5 -4.5 2.7 -5 -0.2 -12.5 1.7 -9.5 0.8 -1.5 1.5 -1.4 6 -1 8.5 -3.2 0.4 -1.9 -1.6 -7 0.1 -3 1.1 -1.3 4 -1.2 1.1 -1 -0.2 -5 -2.1 -3 -0.7 -2 0.8 -6.5 -0.8 -4.5 -1.3 -2.5 -3.3 -3.3 -1 -0.6 -1.5 0 -3.1 0.9 -3.4 2.5 -0.9 1.5 -0.7 4 -0.9 1.7 -2.5 2 -3 1.2 -8 1.4 -2 -0.3 -3 -2.1 -2.7 -4.4 -1.8 -0.6 -3.5 0.8 -2.7 3.3 -1.8 1.4 -13.5 6.2 -2 0 -1.5 -0.9 -0.9 -1.7 0.2 -1.5 2.2 -2.2 8.5 -2.5 8.5 -4.2 0.9 -3.6 4 -7.5 1.3 -4.5 1.8 -2.2 1.5 -0.7 3.5 2.1 1.5 -0.4 0.9 -0.8 1.5 -5 -1.4 -3.5 0 -1.5 3 -5.9 0.6 -4.6 2.2 -4 0.9 -3.5 1.8 -1.5 4.5 -1.2 2.6 -1.3 2 -2 1.6 -3.5 3.8 -1.7 0.2 -1.3 -0.6 -4.5 2.7 -13 1.2 -1.6 3 -0.9 1.2 -5.5 2.7 -4.5 1.8 -2 7.3 -4.8 3 -0.9 8.5 0.9 4 1.2 4.5 2.4 3.5 0.7 3.5 -0.3 6.5 -1.8 13 0.5 5 -1 3 -2 2.7 -5.4 4.3 -2.5 1.5 -5.1 1 -1.8 5.5 -4.1"/>
<path d="M355.5 345.5l-2 1 -0.7 2 1.7 3.5 0.1 3.5 1.9 2 1.5 0.2 3 -1.2 2 -1.4 2.3 -4.1 0.5 -2.5 -0.7 -1.5 -1.1 -0.6 -5.5 -1.3 -3 0.4"/>
<path d="M348.5 376.5l-2.3 2.5 -0.3 2.5 1.1 2.1 3 1 1.2 -0.6 2 -2 0.7 -1.5 0.1 -1.5 -0.5 -1 -1.5 -1 -2.5 -0.7 -1 0.2"/>
<path d="M354 424.5l-0.9 1 0.4 1 3.5 2.1 0.4 -0.1 -1.9 -3.4 -1.5 -0.6"/>
<path d="M256.2 475.5l3.3 0.7 1.6 2.3 -0.2 4 -2.6 2 -3.8 1.3 -6.5 -1 -8.5 4.7 -3 3.2 -2 1 -7.5 -0.2 -1.5 -0.6 -1.2 -1.4 -0.9 -4.5 0.4 -2.5 1.2 -1.6 5 -4.4 6 -1.4 3.5 -0.2 9.5 2.8 5.5 -3.7 1.7 -0.5"/>
<path d="M348.4 514l1.1 -0.3 1 0.5 2 2.8 -0.5 2.8 -1.5 1.6 -1.5 -0.9 -1.4 -3 0 -2 0.8 -1.5"/>
<path d="M357.3 516.5l1.2 0.2 0.4 0.8 -0.4 1.1 -1 1 -0.8 -0.6 -0.4 -1 0.2 -1 0.8 -0.5"/>
<path d="M357.1 535l5.9 -0.4 1.2 0.4 3 4 -0.4 2.5 -1.3 1.7 -3 2.1 -5 0 -4 1.4 -2 -0.4 -1.6 -1.3 -1 -2 0.9 -5.5 1.2 -1.1 6.1 -1.4"/>
<path d="M358 553.5l2.5 -0.4 1.5 0.4 3.4 4.5 5.6 2.2 1.2 1.3 1.6 3.5 3.2 3 0.2 2.5 -1.2 3.5 -3 -0.5 -2 0.4 -1.3 1.1 -0.9 2 0.7 2.5 1.5 0.8 6 -2.7 0.6 0.9 -0.4 2 -1.9 2 -1.8 0.7 -4 0.1 -5.5 1.8 -4.5 -0.6 -1.8 -1 -1.5 -1.5 -6.5 -9.5 -0.3 -2 2.1 -5 3.5 -2.5 0.6 -1 -0.1 -6.8 1 -1.1 1.5 -0.6"/>
<path d="M378.5 583.5l0.5 -0.5 0.5 0.2 1.5 1.9 1.4 3.9 0.1 1 -0.4 0.5 -1.6 -0.5 -1.9 -2 -0.4 -1.5 0.3 -3"/>
<path d="M401 614l1 0 -0.5 1.2 -0.7 -0.2 0.2 -1"/>
<path d="M412.4 618.5l1.6 -0.4 1.3 0.9 0.1 1.5 -0.6 1 -1.3 0.2 -1.5 -0.9 -0.4 -1.3 0.8 -1"/>
<path d="M418.6 625.5l2.4 -0.2 2.7 1.2 -0.7 0.5 -3 0.2 -1.3 -0.7 -0.1 -1"/>
<path d="M431.6 632l0.4 -0.3 6.4 1.8 0.9 1 -0.1 1.5 -1.7 0.9 -2.5 -0.6 -1.5 -1.3 -1.9 -3"/>
<path d="M454.8 651l1.2 -0.2 1.5 0.5 0.7 0.7 -0.2 1 -1 0.6 -2 -0.1 -0.8 -1 0.6 -1.5"/>
<path d="M336.4 275l1.3 0 0.4 1 -0.4 0.5 -1.4 0 -0.3 -0.6 0.4 -0.9"/>
<path d="M427.3 292.5l1.2 -0.3 0.5 0.8 -0.2 1.5 -1.4 2.5 0.8 6.5 2.3 7 1 0.4 3 -0.1 3.5 1.5 3 -1.2 2.5 0.2 1.7 1.2 0.3 2.5 -0.6 1 -1.4 0.8 -4.5 -0.3 -2.5 0.5 -5.5 3.5 -4 0.8 -1.3 0.7 0.2 2 3.3 5 1.2 3.5 -0.3 6 -1.7 5.5 -1.8 4 -1.6 2 -3.5 1.7 -2.7 2.3 -5.8 3.5 -7.5 10.5 -4.5 1 -2.6 2 -0.2 1 1.5 2.5 0.5 3 -1.9 12 -0.8 1.7 -3 2.8 -1.9 4 -4.5 4.5 -0.1 1.5 2.6 3.5 0.5 2 -2.3 6.5 -1.3 1.9 -6 2.6 -2 0.3 -2.7 -0.8 -2.3 -2.9 -1 -0.6 -1.5 0.1 -2.5 1.1 -2.6 2.3 -2.2 3.5 0 2.5 2.3 3 0.4 1.5 -0.9 1.9 -2 0.4 -2 -1.3 -1.5 -3 -5 -5.5 -2 -1.5 -2.5 -0.9 -3.8 -5.1 -0.5 -1.5 0.3 -2 1 -1.7 1.8 -1.3 0.3 -1 -3.1 -2.5 -1.6 -4.5 -4.9 -5.3 -5.5 -0.2 -5 1.6 -0.8 0.9 -0.4 7.5 -1.1 2 -3.7 1.9 -7.5 1.6 -2 0.1 -2 -0.7 -1.8 -1.9 -1.7 -4.3 -1.5 -0.8 -3.5 -0.5 -1 -0.6 -0.1 -2.3 2.3 -3.5 2.8 -6.4 1.5 -0.7 4.5 -0.4 2.2 -2 2 -5.5 -0.6 -4.5 2.2 -6.5 0.2 -4.5 3.8 -6 2.3 -2 6.5 -3.5 6.9 -5.6 0.5 -1.9 -0.5 -7 2.5 -8.1 1.5 -0.6 2.6 1.7 1.4 0.3 1.5 -1.1 0.3 -2.7 -2.2 -4.5 -0.3 -3 1.2 -3.5 2.6 -3.5 7.3 -5 2.6 -0.7 8 0.6 4 1.1 4.5 2.4 4.5 0.8 7 -0.1 7 -1.5 13 0.7 4 -3 3.5 -5.6 4.3 -2.7 1.7 -5.2 3 -1.7 1.8 -2.6"/>
<path d="M394 329.4l-1.5 0.9 -0.6 1.7 0.9 1.5 1.7 0.6 1.4 -1.1 0.2 -1.5 -0.6 -1.2 -1.5 -0.9"/>
<path d="M355 344.4l-2 0.9 -1.2 1.2 -1.5 6 0.4 2.5 2.6 3.5 0.7 1.5 -2.1 3.5 0.1 0.7 2.5 -1.2 2.4 -2.5 6.1 -3.7 3.4 -5.3 0.7 -2 -0.4 -2.5 -1.7 -1.2 -7 -1.5 -3 0.1"/>
<path d="M347 374.4l-2.5 2.9 -0.9 2.2 1.4 6 5.5 1.3 7 0.1 0.4 -0.4 -1.4 -2.5 -0.6 -5 -0.9 -2.1 -1.5 -1.2 -3.5 -1.5 -3 0.2"/>
<path d="M284.7 411.5l2.8 -0.1 1.8 0.6 -0.8 1 -3.4 2.5 -2.1 0.2 -1 -1 0 -1.4 1 -1.2 1.7 -0.6"/>
<path d="M349 427.5l2 -0.1 3 1.9 4.6 7.2 -0.6 1.5 -4 3.5 -3.5 1.4 -2 -0.3 -1 -1.1 -1.4 -3.5 -1.1 -5 0 -2 0.6 -1.5 3.4 -2"/>
<path d="M339.9 443.5l3.1 -0.1 2 0.9 0.3 0.7 -0.4 4 1.6 2.3 1.5 0.4 4.5 -1.2 2.4 1 0.9 2 0.4 6 -0.7 2 -3.8 2.5 -1.6 3.5 -2.7 3 -2.9 5.4 -3.5 3.5 -0.9 2.1 -0.1 1.5 0.6 1.5 4.9 2.9 3.8 4.1 0.3 2.5 -0.6 8 -0.7 3.5 -1.3 1.7 -6.7 2.8 -5.8 3.5 -0.9 1.5 -0.4 5.5 2.3 11 2.7 3.5 0.8 2 -0.4 10.5 1.2 6.5 -1.4 4 -0.3 4.5 -0.8 3 -1.3 1.2 -3.5 0.2 -3.1 -0.9 -2.9 -2.5 -3 -6 -1.8 -5.5 0.2 -2 2.4 -4.5 0.2 -2.5 -1.1 -6.5 -1 -3.5 -0.2 -6.5 -4 -18 0.5 -3.5 1.8 -3.1 1 -2.9 3.9 -4.5 -2.9 -4.5 -0.7 -4 0.7 -3 2.3 -4 -0.2 -4 2.1 -5.5 -0.6 -12 1.7 -7 0.7 -1.2 1 -0.4 4.5 2.2 2.5 0.1 2 -0.6 1.2 -1.1 0.2 -1 -1.6 -2.5 -0.1 -1 1.7 -1.5"/>
<path d="M255.2 477.5l1.8 -0.4 1.5 0.7 0.7 1.2 -0.2 2 -1.1 1.5 -2 1.5 -1.9 0.5 -1.5 -0.3 -1.4 -1.2 -0.2 -2 1.6 -1.9 2.7 -1.6"/>
<path d="M236.7 478l3.3 0.1 4.7 1.4 2.2 1.5 0.3 1.5 -2.2 2.4 -10 6.7 -7 0.1 -1 -0.3 -2.1 -3.9 0 -1.5 0.6 -1.4 5.5 -5 5.7 -1.6"/>
<path d="M358.4 537.5l1.6 0.1 1.2 0.9 0.5 1.5 -0.5 1 -1.6 1 -6.1 2.3 -1 0 -1 -0.7 -0.3 -1.1 0.8 -1.3 6.4 -3.7"/>
<path d="M359.1 556.5l1.9 0.1 2.8 2.9 5.7 3 2.5 3.8 2.1 2.2 -0.1 1.5 -4.5 1.1 -3.5 1.5 -1.5 -0.5 -3.6 -3.6 -1.6 -3 -1.2 -7.5 1 -1.5"/>
<path d="M355.9 567.5l1.6 0.6 3.5 5.2 3 1.4 1.4 1.8 0.6 4 -0.7 1.5 -1.8 1.4 -2.5 0.2 -2.5 -1.1 -1.3 -1.5 -2.9 -5.5 -1.3 -3.5 0 -1.8 1 -2 1.9 -0.7"/>
<path d="M420.3 304l3.2 -0.3 2 1.6 1.8 2.7 0.6 4.5 1.5 3 -0.1 1.5 -0.7 1 -4.4 2.5 -0.6 1 1.1 3 3.3 4.5 1.1 2.5 0.3 4 -0.5 4.5 -2.4 6 -1.5 2.5 -4 2 -2.9 3 -5.6 3.2 -7.5 9.6 -4 0.8 -4.5 2.2 -1.1 4.7 0.5 1 2 1.5 0.6 1 -0.3 4 -2.7 8 -6.5 9.5 -2 1.9 -2.5 1.2 -4 -1.5 -3.5 0.8 -1.4 1.1 0.9 1.7 3 1.3 1.4 -0.5 2.1 -2 1 -0.2 5 4.5 0.8 1.7 -0.1 2 -1.3 3.5 -1.4 2.3 -2 1.1 -6 1.4 -1.5 -0.6 -3 -3.1 -2 -0.2 -4.6 2.6 -5.9 6.5 -1 0.5 -1.5 -0.6 -3.5 -3.4 -5 -3.9 -1.7 -2.1 -0.4 -1.5 0.6 -1.4 2.1 -2.1 0.4 -2.5 -1 -1.5 -2.5 -1.8 -0.9 -4.7 -2.9 -2.5 -1.2 -2.5 0.3 -2.5 1.7 -3.3 2 -0.9 13 1.9 8.5 2.7 1.5 -0.1 0.5 -0.8 -0.8 -1 -2.7 -1.4 -4.4 -4.6 -3.6 -0.6 -1 -0.6 -0.9 -1.8 -0.8 -4.5 -1.3 -2.1 -5 -2.9 -3.5 -1.3 -2 0.6 -2.1 1.7 -1 4.5 -2.1 4.5 -0.1 1.5 1.1 4.5 -0.6 4 -1.2 0.8 -6 2.1 -5.5 0.6 -2 1.5 0 1.1 2 1.9 0.7 1.5 0.2 3 -0.9 1.7 -2 1.1 -8.5 2.2 -2 0 -1.9 -1 -0.8 -1.5 -0.8 -3.7 -2.8 -3.3 1 -7 1.3 -1.4 4.5 -1.4 2.2 -2.7 2.5 -6.5 0.4 -6 1.1 -5 -0.1 -3 0.8 -2 5.1 -6.1 9 -5 4 -3.4 1 -2.5 -0.1 -8 1.6 -3.6 1.5 -1.1 4.5 -0.2 1.4 -1.1 0.4 -5 -2.1 -4.5 -0.3 -2.5 0.9 -3 1.9 -2.5 8.3 -6.1 9 0.2 4.5 1.3 4 2.1 8.8 2 0.8 1 0.4 2 -1.3 3 -0.1 1.5 0.9 1.2 1.5 0.3 0.6 -0.5 0.1 -1 -1 -4 1.3 -1.4 6.5 -0.8 0.6 -0.3 1.4 -2.2 4 -1.1 3 0 4.5 1.4 2 -0.1 2.5 -2.8 3.9 -6.2 2.9 -2"/>
<path d="M392.5 324.4l-0.8 1.1 0.3 2.5 -1.3 2.5 0 1.5 1.3 2 1.5 0.9 1.5 0.2 1.7 -1.6 0.5 -2.5 -1.4 -3 -0.4 -3 -1.4 -0.9 -1.5 0.3"/>
<path d="M412.5 327.5l-0.7 1 0.5 2 1.2 1.2 1.5 0 0.5 -1.2 -0.6 -1.5 -1.4 -1.4 -1 -0.1"/>
<path d="M354.5 343.5l-2 0.9 -1.5 1.6 -2.9 7 2.5 6 -0.4 2 -2.2 4.5 -0.2 1.5 0.7 1 3.5 0.7 1 -0.5 2.5 -2.9 3.5 -1.9 1.3 -2.4 4.2 -4.4 3.2 -5.1 0.6 -2 -0.3 -2.9 -2 -1.4 -9 -1.9 -2.5 0.2"/>
<path d="M349.1 429l1.4 -0.2 1.6 0.7 1.4 1.5 0.6 1.5 0.4 5.5 -1 1.6 -1.5 1.1 -1.5 0 -1.5 -0.8 -1.8 -3.4 -0.4 -2.5 0.3 -2.5 0.7 -1.5 1.3 -1"/>
<path d="M341.7 451l1.8 0.2 2.5 2.1 1.5 0.5 1.5 -0.3 2.5 -1.3 1.5 -0.1 1.2 0.9 0.2 1.5 -0.9 1.9 -2.7 1.6 -0.1 3 -2.4 3 -0.9 4 -3.7 7 -3.9 4.5 -0.9 3 0.1 2 0.4 1 4.9 3 3.4 4.5 0.5 2 -0.1 5 -0.8 3.5 -0.8 1.5 -1.5 1.3 -5.5 2.1 -5 0.9 -2.3 1.2 -0.5 1 -0.3 8 1.8 12 0.9 2 2.8 2.5 0.6 1.3 -0.1 9.2 1.3 7 -2.2 10.2 -1.5 1.5 -2.5 0.5 -2.5 -0.9 -2.2 -2.3 -3.2 -11.5 1 -7 -0.7 -5.5 0.3 -4.5 -2.3 -9.5 -0.2 -5 -1 -3.5 0.2 -2 0.9 -3 -0.9 -5 1.5 -6.5 3.6 -3.9 0.8 -1.6 -0.5 -1.5 -3.3 -3 -0.2 -2.5 2.8 -4 3.9 -3.5 -0.4 -1.5 -2.6 -2.1 -0.7 -1.4 1.4 -5.5 -0.5 -10 0.4 -3 1.1 -2 1.2 -1 6.6 0.6 4.7 -2.6"/>
<path d="M237.2 479l2.3 0.1 4.5 1.4 1.2 1 0 1 -4.6 4.5 -6.1 2.9 -1.5 0.1 -4 -0.7 -1.5 -0.8 -0.7 -1.5 0.2 -1 3.5 -4.2 1.5 -1.1 5.2 -1.7"/>
<path d="M254.1 480l1.4 -0.1 0.5 0.6 -0.5 1.5 -1 0.7 -1 -0.3 -0.4 -0.9 1 -1.5"/>
<path d="M362.9 563.5l1.1 -0.4 2.5 1.3 1.1 1.6 -0.2 1 -1.4 0.6 -2 -0.6 -1.1 -1.5 0 -2"/>
<path d="M360.7 577l1.8 0.3 1 1.7 -0.5 1.6 -1.5 0.9 -1.5 -0.4 -0.9 -1.1 0.3 -2 1.3 -1"/>
<path d="M420.1 305.5l2.4 -0.1 1.8 1.6 1.3 2.5 1.2 5.5 -0.1 1.5 -1 1.5 -1.7 0.9 -2.6 0.6 -0.3 0.5 2 5.5 3.9 3.9 1.4 3.1 -0.2 6.5 -2.2 5.6 -1.9 2.9 -3.6 1.8 -3 3.6 -6 3.3 -3.5 5.3 -3 3 -8.5 2.7 -1.1 0.8 -1.4 6.5 0.5 1.6 2.3 2.4 -0.1 3 -4.5 9.5 -4.7 7.3 -2 1 -2 -0.4 -2.1 -1.4 -1.4 -3 -1 -0.5 -1.5 0 -1.5 0.5 -0.8 1 1.2 2.5 -0.2 1 -3.2 1.4 -0.9 1.1 0.2 1 1 1 6.2 3.6 1.5 0.3 3.5 -1 3 1.4 1 1.7 0.1 1.5 -0.7 2.5 -1.4 2.3 -2 1 -5.5 0.7 -4 -2.8 -2 -0.4 -4.5 2.4 -6 5 -2 0.6 -1.5 -0.6 -5.6 -4.2 -2.3 -3 0 -1.5 1.7 -3.5 0.2 -2 -0.9 -2 -2.6 -2.5 0.8 -5 -0.3 -0.5 -2.5 -1.1 -0.8 -0.9 0.1 -4 0.7 -1.3 6.5 0.1 6 0.9 6 2.5 2.5 0.6 4 0.2 1.1 -1 -0.4 -2.5 -1.2 -1.7 -4 -2.2 -3.9 -3.6 -3.6 -0.8 -1.2 -0.7 -0.7 -1.5 -0.7 -6 -2.4 -5 0.3 -1.5 0.7 -1 4.8 -2.5 1.4 -3.5 6.3 -9.5 1.2 -5.5 -4.2 -1.9 -5 -0.5 -5.5 -1.3 -2 0.5 -2.3 1.7 -2.7 5.1 -3.3 4.4 3.3 4 0.2 2 -0.4 2 -3.3 5.9 -4.4 4.1 -0.6 5.5 -3.2 3.5 0 2.5 1.7 4.5 -0.3 2 -1.9 2 -3.3 1.8 -6 0.5 -4.5 1.7 -2 -0.2 -2.7 -3.8 -0.2 -1 3.9 -11 1.5 -13.5 6 -7.3 8.5 -4.3 4.1 -3.4 0.7 -2 0.3 -7.5 0.7 -3 2.2 -1.9 4.8 -1.1 1.1 -1.5 0.3 -6 -1.8 -4 -0.4 -2.5 0.7 -2.5 1.7 -2 3.1 -2.3 3.3 -3.2 2.2 -0.9 8 0.4 4 1.2 4 2 6.5 1.4 1.4 0.9 0.4 1 0.1 1.5 -0.9 3.5 0.5 1.7 4.1 4.3 1.1 3.5 0.8 1.2 3 2 2 0.3 1.5 -1.3 1.4 -3.2 -0.1 -1.5 -1.2 -4.5 -0.9 -1.5 -1.2 -0.8 -4.3 -0.7 -0.7 -1.1 0.2 -1.4 1.8 -0.9 7 -0.1 1.1 -1 0.9 -2.3 1.5 -0.8 2.5 0 4 1.6 5.5 -0.3 1.7 -6.2 2.3 -3.2 1.6 -1.3"/>
<path d="M412.5 325.9l-1 0.4 -0.7 1.2 -0.3 1.5 0.5 1.8 2.5 2.6 1.5 0.4 1.4 -0.3 0.7 -1.5 -0.6 -2.5 -2 -2.6 -2 -1"/>
<path d="M314.9 398.5l4.1 -0.4 3.5 2.3 3.5 0.9 1 1.5 -0.2 1.7 -1.8 1.3 -7.5 1.9 -2 -0.3 -1.2 -1.4 -0.8 -5 0.3 -1.5 1.1 -1"/>
<path d="M349.6 430.5l1.9 0.4 1 2.1 -0.9 4 -1.1 0.9 -1.5 -1 -0.8 -2.4 0.3 -2.5 1.1 -1.5"/>
<path d="M340.9 453l1.6 -0.3 1.3 0.8 2.6 3 0.4 2 -1.3 4 0.1 5 -0.4 2 -2.8 5.5 -4.4 5 -1.2 6 1.2 1.7 2.5 0.6 2 1.2 3 3.6 1.2 2.9 0.2 5 -1.9 2.9 -4.5 2.8 -2 0.5 -9.7 0.3 -2.3 2.1 -1.5 -1.4 -0.7 -1.7 0 -5.5 1 -2 3.6 -4 0.4 -1.5 -0.8 -1.8 -2.5 -2.2 -0.4 -1.5 1 -1.5 7.6 -6 0.9 -1.5 -1 -2 -3.1 -1.7 -1.1 -1.3 -0.4 -12.8 0.5 -1.3 3.1 -3.9 4.4 -1 3.4 -2"/>
<path d="M236.5 480.5l3 -0.1 2.6 1.6 0 1 -1.6 2.8 -2 1.2 -4.5 0.9 -2 -0.2 -1.5 -0.8 -0.5 -1.4 1.3 -2.5 5.2 -2.5"/>
<path d="M326.6 511.5l0.4 -0.4 1 0.5 1.6 3.9 -0.2 5 0.8 4 -1.3 3.5 1.9 5 4.1 5 0.5 5 2.1 10 -1.5 9 -1 1.7 -2 0.8 -2.5 -0.7 -2 -2.3 -0.7 -5.5 -1.6 -5.5 0.4 -6.5 -0.5 -5.5 2.2 -6 -1.5 -3 0.6 -2.5 -2.1 -3.5 -0.1 -4 -1.1 -4 0.5 -1.5 2 -2.5"/>
<path d="M420.7 307l1.3 0 1.1 1 2 5 0.1 3 -0.7 1.1 -1.5 0.7 -2 -0.1 -2.5 -1.1 -1.2 -1.1 -0.6 -1.5 0.1 -2 0.6 -1.5 3.3 -3.5"/>
<path d="M360.1 312l7.9 0.5 4.5 1.3 3.5 1.6 6.5 1.6 1.1 2 -1.1 4 0.3 1.5 4.6 5.5 2.2 4 5.4 3.2 1.5 -0.1 1 -1.1 2.5 -5 0.1 -1.5 -2.2 -5.5 -1.9 -1.7 -3.1 -1.3 1.1 -0.4 5.5 -0.1 1.5 -0.9 2.5 -2.7 4.5 1.2 7 0 2.5 0.7 2.3 2.7 0.1 4 0.9 2 1.2 0.9 3.5 1.1 1.8 2.5 0.3 2.5 -0.7 5 -1 3 -1.9 2.9 -3.5 1.9 -2.7 4.2 -1.3 1.2 -6.2 2.8 -2.6 5 -2.2 2.1 -7 2.8 -3.5 0.3 -1.1 0.8 -1 8 0.5 2.5 1.5 3 -0.1 1.5 -2.2 3.5 -2.1 6.1 -3.5 5.2 -1.5 1.1 -1.5 -0.1 -1 -0.8 -2 -3.8 -1.5 -0.5 -3.6 -0.2 -2.4 -3.4 -4.2 -3.6 -4.6 -2.5 -3.8 -1 -1.1 -1.5 0.9 -5.5 -1.6 -5 0.1 -1 1.3 -1.1 2 -0.2 1.4 1.3 2.1 4 1.5 0.7 1.5 -0.5 -0.5 -6.2 -1 -1.4 -2.6 -1.6 -0.3 -2 1.9 -4 3.1 -4 1.9 -4.8 1.5 -1.2 3.5 -1.4 0.2 -0.6 -0.7 -0.6 -4.4 -0.9 -5.8 -1 -4.3 0 -7 -1.7 -2 0.9 -1.5 1.4 -3.1 5.4 -1.4 1.4 -2 0.4 -1 -1.3 -0.1 -4.5 1.4 -5.5 1.7 -1.4 4.5 -1.1 1.1 -1.5 0.4 -7 -1 -7 0.3 -1.5 6.2 -6.8 2.1 -1.2"/>
<path d="M412 324.5l-2 2 -0.7 3.5 3.2 5 0.2 4 0.6 1 0.7 0.1 2 -1.5 3 -0.2 1.1 -1.4 0.2 -2 -3.4 -7 -3.4 -3.2 -1.5 -0.3"/>
<path d="M383 351.5l-1 0.4 -2.5 3.1 -2.1 1.5 -0.4 1.1 2 0.5 5 -1.1 1 -2 0.2 -2.5 -0.7 -0.8 -1.5 -0.2"/>
<path d="M339 356l1.5 -0.2 5.5 2.7 0.8 1 0.4 1.5 -0.6 2 -1.1 1.9 -6 6.1 -1.5 5.8 -3 1 -0.8 0.7 1.2 5.5 1.3 3.5 -0.1 2 -2.2 2.5 -2.4 1.2 -4.5 0 -4 0.9 -2 -0.5 -2 -2.1 -0.2 -2 4.4 -13.5 0.7 -9.5 5.8 -6.5 8.8 -4"/>
<path d="M372.5 380.4l-0.4 0.6 0.4 0.5 0.9 -1 -0.4 -0.4 -0.5 0.3"/>
<path d="M354 392.5l5.5 0.1 7 3.1 3.2 0.8 0.8 1 -0.9 3.5 1.3 2.5 9.6 5.5 4 -0.6 1.5 0.5 1.3 2.1 -0.8 3.2 -2 1.3 -5.5 0.2 -4.3 -2.2 -1.7 -0.2 -4 2.2 -6.5 5 -2 0.3 -1.5 -0.7 -4.8 -3.6 -1.5 -2.5 1 -4.5 0 -3 -2.7 -4.5 1.1 -3 2.6 -3 -0.7 -3.5"/>
<path d="M317.1 401.5l1.4 -0.1 2.5 1 1.3 1.1 -0.2 0.5 -2.6 1.2 -2 0.1 -1 -1.8 0.6 -2"/>
<path d="M340.7 454.5l1.9 0 2.3 3 -0.7 10.5 -2.9 7 -1.8 1.8 -2 0.4 -2 -1.1 -2.3 -2.6 -2.1 -5.5 -0.3 -4.5 1.2 -2.2 2 -1.3 2.1 -0.5 1.3 -2.5 3.3 -2.5"/>
<path d="M237.1 482l1.7 0 1.1 1 -0.1 1.5 -0.8 1 -2.5 0.5 -3.6 -0.5 -0.3 -0.5 0.6 -1 3.9 -2"/>
<path d="M331.5 485.5l1.5 -0.4 1 0.3 2.8 5.1 4.4 1 4.1 5.5 0.5 2.5 -0.6 2 -5.2 4 -1.5 0.5 -8.5 0.3 -3 -0.7 -1 -1.1 -0.5 -2.5 0.2 -1.5 4.3 -5 0.6 -1.5 -0.3 -2 -2.4 -3 0 -1 3.6 -2.5"/>
<path d="M329.8 536l1.7 0.6 1.3 1.9 3.6 14 -1.1 8.5 -0.8 1.5 -1.5 0.9 -2 -0.4 -1.5 -1.6 -0.4 -4.9 -1.9 -6 0.1 -11.5 0.9 -2 1.6 -1"/>
<path d="M420.4 310l1.6 0 1.8 2.5 0.3 2.5 -1.1 1.4 -2.8 -0.4 -1.9 -2 0.2 -2.4 1.9 -1.6"/>
<path d="M359.7 313l1.8 -0.2 5 0.8 2.5 1 3.5 0.4 8.7 2.5 0.9 1 0.1 1 -1.4 3 0.2 2 5.5 5.9 2.9 4.6 6.1 3.5 1.5 0.1 1.4 -0.6 1.4 -4 2.8 -3 -2.4 -8.5 4.3 -2.6 4.5 0 1.3 0.6 0.7 1 -0.6 2.5 -4.8 7.5 3.4 1 1.4 1.5 1.1 6.7 1 1.6 1.5 0 3 -1.2 3 0 1.9 -4.1 0.4 -5.5 2.2 -0.6 1 0.4 0.8 1.2 0.2 2 -1.8 7 -1.2 1.6 -3 1.6 -4 7 -3.5 2 -4 0.1 -1.5 5.2 -1 1.4 -1.5 1.1 -3.5 0.8 -3.5 1.8 -5 -0.2 -1.5 0.8 -0.3 1.3 1 3.5 -0.2 10 -1.8 9 -1.2 2 -2 1.5 -1.5 0.1 -3.5 -1.6 -5 -0.3 -2.6 -3.2 -0.6 -1.5 2.1 -3.5 0.8 -6 -4.9 -1.5 -1.1 -4 -0.2 -4 -3 -5.5 0.7 -2.5 2.9 -3 0.9 -3.8 1 -1.7 2 -1.2 2.5 -0.1 1.5 1.3 0.1 2.5 -1.1 1.6 -3.5 1.9 -0.4 1.5 1.4 2.4 2.6 1.6 0.3 3 0.9 1.5 2.2 1.3 2 0 2.6 -4.8 -0.2 -5 2.3 -6.5 -3.4 -5 -1.3 -0.6 -2.5 0.2 -4 -2 -10.5 -1.6 -5 0.2 -7.5 -2 -2.5 1.4 -5 7.3 -1 0.2 -1 -1 0 -2.6 1.5 -5.5 1.5 -1.1 3.5 -0.4 1.6 -1.5 0.9 -10.5 0.6 -1 2.4 -0.9 0.2 -0.6 -1.5 -3.5 -0.1 -1.5 2.8 -4.5 1.8 -1.5"/>
<path d="M413.9 320l2.1 -0.3 1.8 1.3 0.3 1.5 -0.6 3 -1.5 -0.3 -1.6 -1.7 -1.1 -2 0.6 -1.5"/>
<path d="M337.6 359l1.4 -0.3 5.5 1.6 0.8 0.7 0.2 1 -1 2.1 -4 3.3 -2.2 3.1 -1.9 4 -3.9 1.1 -1.6 1.4 -0.1 1.5 2.2 2.6 0.9 1.9 1.3 4.5 -0.2 2 -1.1 1.5 -1.9 1.2 -4.5 0.1 -3.5 0.6 -1.5 -0.2 -1.8 -1.7 -0.3 -2.5 3.9 -10 2.2 -3.5 -1.1 -4 0.2 -3.5 5.5 -6 4.4 -1.3 2.1 -1.2"/>
<path d="M364 374.5l1.5 -0.2 5.6 1.2 -0.4 3 -2.7 2.9 -2.5 0.1 -4 -1.6 0 -1.9 2.5 -3.5"/>
<path d="M358.1 394.5l1.4 0.1 4.8 2.4 1.7 3 3.8 4 2.2 1.4 4.9 2.1 3.1 2.8 1.5 0.5 2.5 -0.6 1.1 0.3 0.9 1.5 -0.5 1.3 -1 0.6 -3 -0.4 -3 0.6 -4 -1.7 -1.5 -0.1 -4 2.4 -6 4.5 -2 0.4 -1.5 -0.6 -3.9 -3 -1.1 -1.5 0 -8.5 -1.9 -4.5 0.7 -2 4.8 -5"/>
<path d="M340.9 456l1.6 0.4 1.3 2.1 -0.7 9 -2.2 6.5 -1.4 1.6 -1.5 0.4 -2 -1 -1.1 -1.5 -0.9 -3.3 -1.7 -3.2 -0.2 -2.5 0.4 -1 1.3 -1 3.2 0.4 1.2 -0.4 0.8 -1.5 0.3 -3.5 1.6 -1.5"/>
<path d="M331.6 487.5l1.4 -0.1 0.7 0.6 0.6 3.5 0.7 0.9 5 2.2 3.5 3.5 0.4 1.4 -0.6 1.5 -3.8 3.3 -8.5 1.1 -2.5 -0.5 -1.4 -1.4 -0.4 -2 0.5 -1.5 4 -4 1.1 -2 0 -1.5 -1.9 -3.5 1.2 -1.5"/>
<path d="M329.6 538.5l0.9 0 1 1.4 3.8 11.6 -1 9 -0.8 1.4 -1 0.4 -1.2 -0.3 -1 -1 0 -4.5 -2.2 -6 0.6 -10.5 0.9 -1.5"/>
<path d="M420.6 312.5l1.4 0.3 0.4 0.7 -0.2 1 -0.7 0.2 -1.2 -0.7 -0.1 -1 0.4 -0.5"/>
<path d="M359.7 314l2.8 -0.2 2.6 0.7 1.7 1 1.1 2 -1.6 2.5 0.2 1.2 1.5 -0.9 0.9 -2.8 2.6 -1.2 2 0.2 6.5 1.9 0.4 1.1 -1.6 3.5 0.6 2 6.5 6 3.1 4.8 6 3.5 2.5 0.5 2.5 -0.9 1.2 -1.4 0.3 -2.5 1 -0.7 5.5 -0.2 0.9 0.4 0.9 2 0.7 7 2 0.7 4 -1 1 0.3 0.7 1 -0.1 2 -1.6 3.9 -1.7 1.6 -2.3 0.9 -4 -1.3 -1.5 0.4 0 5.5 -1 1.8 -1.5 1 -4.5 0.7 -3 1.5 -8 -0.2 -1.4 -2.3 -0.5 -2.5 0.5 -2 1.8 -3.5 0.1 -2 -0.7 -1.5 -3.8 -3.9 -4 -0.7 -3.5 -1.2 -5.5 -0.3 -5 -1.4 -6 0.4 -6 -2.3 -1 -0.9 -0.5 -5.7 0.5 -3.8 1 -1.8 2.5 0.1 1 -1 -0.1 -2 -1.7 -3 -0.3 -1.5 1.6 -3.6 1.7 -1.9"/>
<path d="M406.6 321.5l1.9 0.3 0.5 1.7 -3 3.7 -1.5 0.7 -0.7 -0.9 0 -4 1.2 -1 1.6 -0.5"/>
<path d="M365 331.3l-0.7 1.2 0.7 1.2 1 0.4 1.4 -0.6 0 -1.5 -0.9 -0.6 -1.5 -0.1"/>
<path d="M347.8 340.5l1.2 0 0.5 1 -1 1.6 -1 0.5 -0.5 -0.3 -0.1 -1.3 0.9 -1.5"/>
<path d="M375.3 350.5l1.2 -0.2 1 1.2 -0.5 1.5 -1.5 0.7 -1 -0.2 -0.5 -1 0.2 -1 1.1 -1"/>
<path d="M371.7 360l1.3 0.7 4.7 5.8 5 4 1.8 0.1 1.4 -0.6 0.8 -1 0.5 -3 0.8 -0.4 0.5 0.6 2.3 4.8 0.5 4.5 -1.7 5.5 0 5.5 -1.6 2.7 -1.5 0.4 -1.5 -0.1 -6 -1.4 -1.5 -1.1 0.5 -7.5 2 -3.5 0.5 -2.2 -1 -0.9 -4.5 0.1 -2.1 -1 -0.6 -2 0.5 -3.5 -1.8 -2.5 -0.6 -2 0.5 -1.5 0.8 -0.5"/>
<path d="M333 362.5l3 -0.2 2.5 1.8 0.7 1.9 -1 2.5 -1.7 2.5 -1.5 1.2 -4 -1 -3 -0.1 -0.9 -1.6 0.4 -1.5 4 -4.5 1.5 -1"/>
<path d="M366 376l2 0.4 0.9 1.1 -0.9 1.8 -2 0.9 -2 -0.6 -0.5 -1.1 0.7 -1.5 1.8 -1"/>
<path d="M326.4 378.5l1.6 0.1 4.4 3.9 0.8 2.5 0.3 4 -0.9 1.5 -1.1 0.6 -8 0.7 -1.8 -1.3 -0.3 -3 3.6 -7.6 1.4 -1.4"/>
<path d="M358 397.5l1 -0.2 3.5 1.3 2.7 2.9 4.4 3.5 2.9 1.8 4 1.5 1.7 2.2 0.1 1.5 -0.8 0.3 -3.5 -1.1 -1.5 0.1 -9.5 6.8 -1.5 0.3 -2 -0.8 -2.9 -2.6 -0.9 -1.5 -0.4 -8 -1.3 -4 0.9 -2 3.1 -2"/>
<path d="M340.9 459l0.6 -0.5 0.5 0.3 0.5 1.5 -0.5 7.2 -2 6.1 -1 1 -1.5 0 -1.5 -1.5 -0.2 -3.6 -1.8 -3 -0.1 -1 0.6 -0.9 3 -0.1 1.9 -1 1 -1.5 0.5 -3"/>
<path d="M334.1 495.5l1.4 -0.5 2.1 1 3.2 3 -0.1 2 -1.7 1.6 -3 0.4 -3 1.2 -2 0.2 -1.7 -0.4 -1.2 -1.5 0.2 -2 1.3 -1.5 4.5 -3.5"/>
<path d="M330.3 545.5l0.7 -0.2 0.5 0.5 2.6 4.7 -0.1 3.2 -1.5 2.1 -2 -1.6 -1.4 -2.7 0 -2.5 1.2 -3.5"/>
<path d="M332.1 558.5l0.4 -0.2 0.5 1.2 -0.3 1 -0.7 0.2 -0.5 -1.2 0.6 -1"/>
<path d="M361 314.5l2.8 0.5 1.8 1.5 0 1 -1.8 4.5 0.2 1.1 1 0.9 1.5 -0.2 3.1 -1.8 2.6 -4 1.8 -0.1 2.8 1.1 0.5 1 -1.5 4 6.2 4.3 3 2.9 3.5 5.4 6 3.4 2 0.6 2.3 -0.1 3.7 -1.4 2.5 -2.3 2.5 -0.1 1.2 1.8 0.1 4.5 1.2 2.2 1.5 0.5 4 -0.7 1.2 0.5 0.2 1.5 -0.9 2.5 -1.3 1.5 -1.7 0.7 -1.5 -0.2 -2.5 -1.6 -3.2 1.1 -0.6 1 0.9 3.5 -0.1 1.5 -0.9 1.5 -1.1 0.6 -8.5 1.4 -4.5 0.2 -1.5 -0.4 -1 -1.3 -0.3 -2 2.1 -4.5 0.2 -3 -1 -2 -4 -3.6 -7.5 -2.1 -6 0 -5 -2.1 -3.5 1 -2 0.1 -6.5 -3.4 -0.8 -3.4 0.1 -3.5 1.2 -2 2.5 -0.1 1.3 -0.9 0.4 -3.5 -2.2 -4.5 1.5 -3.6 2 -1.4"/>
<path d="M364 329.9l-1.1 1.1 0.4 2.5 1.7 2 1 0.5 1 -0.2 2 -1.8 0.2 -2 -2.2 -1.8 -3 -0.3"/>
<path d="M333.9 364l2.1 0.3 1.3 2.2 -0.8 2.1 -2 1.1 -2 -0.4 -1.6 -1.3 1 -2.5 2 -1.5"/>
<path d="M375.2 368l0.8 -0.2 1.5 0.6 1 1.1 0.1 1 -1.6 0.7 -2 -0.3 -0.6 -1.4 0.8 -1.5"/>
<path d="M387.1 371.5l1.4 -0.1 1 0.6 0.8 1.5 0.2 2 -2.4 5.5 0.5 4 -0.3 1.5 -1.3 1.4 -1.5 0.2 -1.5 -0.6 -0.8 -1 0.3 -3 -3 -1.5 -0.9 -2 3.2 -6.5 1.2 -0.9 3.1 -1.1"/>
<path d="M325.8 382l1.7 -0.4 3 0.9 1 0.9 0.5 3.6 -0.3 1.5 -0.7 1 -6 1.3 -1.5 -0.2 -0.8 -0.6 -0.5 -1.5 0.3 -1.5 3.3 -5"/>
<path d="M356.8 400l1.7 -0.4 3.5 1.1 9 6.3 1.4 1.5 -0.1 1 -2.8 3 -5 3.6 -2 1 -2 -0.4 -2.8 -2.7 -1.3 -3 -0.1 -6 -0.6 -3.5 1.1 -1.5"/>
<path d="M338.4 466.5l1.1 -0.4 0.7 0.9 -1.1 5 -1.1 0.8 -0.5 -0.8 0.4 -4.5 0.5 -1"/>
<path d="M331.8 499.5l2.2 -0.3 0.5 1.3 -1.3 2 -2.2 0.6 -0.9 -0.6 -0.3 -1 0.7 -1.3 1.3 -0.7"/>
<path d="M330.6 549l0.9 -0.2 1.2 1.7 0.1 1.5 -0.8 1.1 -1 -0.3 -0.7 -1.3 -0.1 -1.5 0.4 -1"/>
<path d="M360.9 315.5l2.1 0.1 1.4 1.4 -1.4 3.3 -1 1.3 -1 0.5 -1.7 -1.1 -0.8 -1.5 0.8 -2.5 1.6 -1.5"/>
<path d="M361.5 324.5l1 0 2.5 1.7 3.5 -1.8 1.5 -0.4 1 0.4 3 2.3 4 0.4 3 1.7 4 3.6 3 5.3 7 3.3 3 0.4 7 -1.7 1.5 0.1 2.9 7.7 -1.8 1.5 -3.9 2 0 1.5 1.2 3 -0.6 2 -2.8 1 -7.5 -0.8 -2.5 1.1 -1.5 -0.3 -0.4 -1.5 1.4 -2.8 0.4 -2.7 -0.3 -3 -0.6 -1.5 -5.5 -4.5 -3.5 -0.9 -0.9 -0.6 1.2 -3.5 -0.8 -1.6 -1.5 -0.9 -0.9 0 -0.4 0.5 0 4 -1.2 1.2 -3.5 0.8 -4 -1.5 -0.9 -1 -0.3 -1.5 2.3 -4 -0.3 -2 -1.8 -1.8 -3 -1.6 -1 -0.1 -3 0.9 -0.6 -1.9 0.6 -2.5"/>
<path d="M359.9 329.5l1.1 0.1 1.3 3.9 2.4 4 -0.1 1.5 -1.6 0.9 -2.5 -0.3 -3.8 -2.1 -1.1 -1 -0.6 -1.4 -0.3 -3.1 0.8 -2 4.4 -0.5"/>
<path d="M412.5 347l1.5 -0.3 1.2 0.3 -0.2 1.8 -1.5 1.3 -1.1 -0.1 -1 -1.5 0.2 -1 0.9 -0.5"/>
<path d="M385.7 373.5l1.8 -0.4 1.1 0.4 0.8 1.5 -0.3 1.5 -3.6 4.3 -3 -0.2 -0.9 -1.1 0.5 -2 1.4 -2.5 2.2 -1.5"/>
<path d="M326.6 384l2.4 -0.2 1 0.3 0.6 1.4 -0.5 2 -0.8 1 -1.8 0.8 -3.5 0.1 -0.6 -0.9 0.2 -1.5 1.4 -2 1.6 -1"/>
<path d="M358.1 404.5l0.9 -0.5 3.5 0.2 4 1.3 3.6 2 0.6 1 -0.1 1 -1.4 2 -3.7 3 -2.5 1.1 -1.5 -0.1 -2.9 -2.5 -1.3 -2.5 -0.2 -2.5 1 -3.5"/>
<path d="M630.5 94.5 629.5 100 631.5 103 627.4 109.8 630 113 633.5 115 636 119.5 639 121 641.2 123.5 642 128 645.5 131 648.5 137 652 143 656.4 151 657.5 153.5 660.5 154 662 160 664 163 667.1 169.3 671 173 676 177 680 178.5 685.4 183 690 186 695 188 699.9 191.4"/>
<path d="M654.1 94.5 657 101 661 108 664 115.9 666 122 670 127 674.7 132.7 675 138 677 145 679.3 154 682 158 685.4 161.7 690 166 695 169.5 699.9 173.1"/>
<path d="M661 94.5 664 104 667 112 670.1 119 673 124 677 128 680.8 134.2 682 140 683.5 146 685.4 151 688 156 691.5 160.1 695 163 699.9 165.5"/>
<path d="M665.6 94.5 668 102 670 108 673.2 112.9 675 118 679 122 683.1 128.1 685 133 686 141 688.4 149.5 691 153.5 694.5 157.1 697 158.5 699.9 159.4"/>
<path d="M671 94.5 673 101 675 109 677.5 116 680 118.5 683 116 684.5 110 686 104 688.5 101 691 102 692 106 690 111 690.5 117 694 124 697 129 699.9 130.5"/>
<path d="M680.8 94.5 684 97 688.4 99.9 687 103 685.4 106.8"/>
<path d="M690.5 140 693 138.5 696 140 697 144 696 149 693 151 690 148 689 143 690.5 140"/>
<path d="M699.9 152.5 696.5 152 693 153.5 691 151"/>
</g>
<g fill="#000" fill-opacity="0.75"><circle cx="413.8" cy="253" r="0.75"/><circle cx="418.3" cy="254.7" r="0.75"/><circle cx="421.9" cy="245.8" r="0.75"/><circle cx="429.9" cy="245" r="0.75"/><circle cx="432.5" cy="253" r="0.75"/><circle cx="445.9" cy="245.8" r="0.75"/><circle cx="467.2" cy="239.6" r="0.75"/><circle cx="466.3" cy="245.8" r="0.75"/><circle cx="477" cy="248.5" r="0.75"/><circle cx="430.7" cy="210.2" r="0.75"/><circle cx="528.5" cy="98" r="0.75"/><circle cx="531.9" cy="98" r="0.75"/><circle cx="528.5" cy="103.2" r="0.75"/><circle cx="553.6" cy="101.9" r="0.75"/><circle cx="527.1" cy="113.8" r="0.75"/><circle cx="516.6" cy="117.8" r="0.75"/><circle cx="516.6" cy="136.3" r="0.75"/><circle cx="517.9" cy="142.9" r="0.75"/><circle cx="512.6" cy="149.5" r="0.75"/><circle cx="511.3" cy="157.4" r="0.75"/><circle cx="516" cy="205.8" r="0.75"/><circle cx="524.5" cy="213.5" r="0.75"/><circle cx="476.5" cy="553.3" r="0.75"/><circle cx="490.3" cy="565.5" r="0.75"/><circle cx="526" cy="568.3" r="0.75"/><circle cx="470" cy="572.4" r="0.75"/><circle cx="487.4" cy="579.3" r="0.75"/><circle cx="470" cy="583.3" r="0.75"/><circle cx="513" cy="585.8" r="0.75"/><circle cx="550.5" cy="586.6" r="0.75"/><circle cx="491.5" cy="593.9" r="0.75"/><circle cx="513.9" cy="593.9" r="0.75"/><circle cx="521.2" cy="593.9" r="0.75"/><circle cx="485.4" cy="604" r="0.75"/><circle cx="487.4" cy="609" r="0.75"/><circle cx="497.6" cy="604.9" r="0.75"/><circle cx="490.3" cy="614.3" r="0.75"/><circle cx="492.7" cy="615" r="0.75"/><circle cx="495.6" cy="620.4" r="0.75"/><circle cx="629.8" cy="585.4" r="0.75"/><circle cx="680.6" cy="687.5" r="0.75"/><circle cx="426" cy="259" r="0.75"/><circle cx="437" cy="256" r="0.75"/><circle cx="440" cy="262" r="0.75"/><circle cx="452" cy="258" r="0.75"/><circle cx="415" cy="262" r="0.75"/></g>
<g clip-path="url(#ax)" stroke="#fff" stroke-opacity="0.5" stroke-width="0.65" fill="none">
<line x1="99.5" y1="105.6" x2="712.5" y2="93.3"/>
<line x1="99.5" y1="208.2" x2="712.5" y2="195.9"/>
<line x1="99.5" y1="310.8" x2="712.5" y2="298.5"/>
<line x1="99.5" y1="413.4" x2="712.5" y2="401.1"/>
<line x1="99.5" y1="516.0" x2="712.5" y2="503.7"/>
<line x1="99.5" y1="618.6" x2="712.5" y2="606.3"/>
<line x1="99.5" y1="721.2" x2="712.5" y2="708.9"/>
<line x1="99.5" y1="823.8" x2="712.5" y2="811.5"/>
<line x1="114.4" y1="824.5" x2="100.3" y2="94.5"/>
<line x1="199.8" y1="824.5" x2="185.7" y2="94.5"/>
<line x1="285.2" y1="824.5" x2="271.1" y2="94.5"/>
<line x1="370.6" y1="824.5" x2="356.5" y2="94.5"/>
<line x1="456.0" y1="824.5" x2="441.9" y2="94.5"/>
<line x1="541.4" y1="824.5" x2="527.3" y2="94.5"/>
<line x1="626.8" y1="824.5" x2="612.7" y2="94.5"/>
<line x1="712.2" y1="824.5" x2="698.1" y2="94.5"/>
</g>
<g clip-path="url(#ax)" stroke="#000" stroke-width="2.1" fill="none" stroke-linejoin="miter" stroke-miterlimit="6" stroke-linecap="butt">
<path d="M504.7 94.0 L506.9 107.7 L508.5 119.2 L507.6 139.7 L506.9 164.9 L501.2 183.2 L489.8 208.4 L482.9 217.5 L473.8 224.4 L464.6 226.2 L453.9 226.0 L446.3 222.1 L437.0 212.4"/>
<path d="M434.3 212.9 L446.8 240.5 L442.3 241.4" stroke-width="1.7"/>
<path d="M437.0 212.4 L434.3 212.9" stroke-width="1.7"/>
<path d="M400.5 215.0 L428.6 242.6 L432.5 239.6 L408.5 215.6" stroke-width="1.7"/>
<path d="M404.4 206.7 L412.0 209.4 L414.7 213.5 L409.0 215.0" stroke-width="1.7"/>
<path d="M396.0 210.2 L402.3 205.8 L406.7 210.2 L400.5 215.0 L396.0 210.2" stroke-width="1.7"/>
<path d="M402.3 205.8 L405.8 202.2" stroke-width="1.7"/>
<path d="M395.5 204.0 L417.4 196.5" stroke-width="2.6"/>
<path d="M396.0 210.2 L393.4 208.1 L388.4 206.2 L385.4 203.1 L382.7 199.9 L375.6 199.6 L366.7 201.7 L359.6 202.8 L355.1 204.0 L355.1 208.5 L353.3 214.7 L346.2 220.0 L342.7 223.5 L333.5 232.6 L328.0 242.4 L321.0 249.4 L319.6 257.7 L315.4 261.9 L316.8 271.7 L314.0 282.9 L315.8 292.8 L320.0 301.2 L317.2 312.4 L320.0 323.5 L314.4 326.3 L313.0 340.3 L310.2 354.3 L300.4 366.9 L285.0 378.0 L269.7 389.2 L265.5 401.8 L261.3 418.6 L258.5 420.0 L258.5 427.0 L252.9 428.4 L250.1 441.0 L247.3 457.7 L231.9 463.3 L211.0 468.9 L218.0 475.9 L205.4 491.3 L209.6 498.0 L226.3 505.0 L234.7 517.5 L245.9 528.7 L264.1 535.7 L273.9 528.7 L272.5 514.7 L278.0 506.3 L286.4 504.1 L297.6 507.7 L301.8 516.1 L308.8 531.5 L310.2 542.7 L306.0 553.9 L297.6 562.3 L289.2 566.5 L287.8 579.0 L285.1 584.6 L287.8 588.8 L282.3 595.8 L286.4 609.8 L285.1 626.6 L282.3 648.9 L272.5 669.9 L261.3 670.7 L253.7 682.2 L243.5 690.3 L235.4 695.4 L233.4 700.5 L236.4 702.5 L230.3 708.6 L231.3 718.8 L240.5 733.0 L250.7 747.3 L260.8 761.5 L267.9 773.7 L283.2 773.7 L299.4 780.8 L313.7 796.0 L316.7 810.3 L320.8 825.0"/>
<path d="M714.0 562.2 L703.0 563.0 L560.6 596.0 L534.2 615.0 L452.9 665.9 L448.8 680.1 L437.8 676.1 L420.3 692.3 L436.6 716.7 L424.4 735.0 L418.3 765.5 L423.2 798.9 L454.9 806.2 L465.1 825.0"/>
</g>
<rect x="99.5" y="94.5" width="613.00" height="730.00" fill="none" stroke="#000" stroke-width="1.05"/>
<g>
<circle cx="342.7" cy="224.5" r="3.2" fill="#000" stroke="#fff" stroke-width="0.9"/>
<circle cx="363.1" cy="239.3" r="3.2" fill="#000" stroke="#fff" stroke-width="0.9"/>
<circle cx="340.5" cy="281.0" r="3.2" fill="#000" stroke="#fff" stroke-width="0.9"/>
<circle cx="315.3" cy="292.0" r="3.2" fill="#000" stroke="#fff" stroke-width="0.9"/>
<circle cx="446.8" cy="305.5" r="3.2" fill="#000" stroke="#fff" stroke-width="0.9"/>
<circle cx="371.6" cy="326.1" r="3.2" fill="#000" stroke="#fff" stroke-width="0.9"/>
<circle cx="381.2" cy="329.3" r="3.2" fill="#000" stroke="#fff" stroke-width="0.9"/>
<circle cx="389.5" cy="390.3" r="3.2" fill="#000" stroke="#fff" stroke-width="0.9"/>
<circle cx="344.3" cy="520.2" r="3.2" fill="#000" stroke="#fff" stroke-width="0.9"/>
<circle cx="333.4" cy="546.8" r="3.2" fill="#000" stroke="#fff" stroke-width="0.9"/>
<circle cx="332.3" cy="560.2" r="3.2" fill="#000" stroke="#fff" stroke-width="0.9"/>
<circle cx="244.6" cy="696.0" r="3.2" fill="#000" stroke="#fff" stroke-width="0.9"/>
<circle cx="252.1" cy="734.4" r="3.2" fill="#000" stroke="#fff" stroke-width="0.9"/>
<text class="lb" x="349.3" y="224.3" textLength="94.4" lengthAdjust="spacingAndGlyphs">SHL: -1179.2 m</text>
<text class="lb" x="370.2" y="238.9" textLength="87.2" lengthAdjust="spacingAndGlyphs">SHT: -984.6 m</text>
<text class="lb" x="347.3" y="281.4" textLength="85.8" lengthAdjust="spacingAndGlyphs">LHT: -949.5 m</text>
<text class="lb" x="322.8" y="291.9" textLength="85.6" lengthAdjust="spacingAndGlyphs">LHL: -922.1 m</text>
<text class="lb" x="454.0" y="305.1" textLength="88.6" lengthAdjust="spacingAndGlyphs">BTO: -294.5 m</text>
<text class="lb" x="378.2" y="325.7" textLength="86.9" lengthAdjust="spacingAndGlyphs">GUT: -446.3 m</text>
<text class="lb" x="388.5" y="349.7" textLength="87.6" lengthAdjust="spacingAndGlyphs">TMT: -345.6 m</text>
<text class="lb" x="396.0" y="390.0" textLength="76.3" lengthAdjust="spacingAndGlyphs">OHT: 32.7 m</text>
<text class="lb" x="351.5" y="520.2" textLength="86.4" lengthAdjust="spacingAndGlyphs">CBT: -238.9 m</text>
<text class="lb" x="340.5" y="546.8" textLength="89.6" lengthAdjust="spacingAndGlyphs">FWT: -289.9 m</text>
<text class="lb" x="339.5" y="559.9" textLength="88.7" lengthAdjust="spacingAndGlyphs">NHT: -240.5 m</text>
<text class="lb" x="251.7" y="696.0" textLength="86.8" lengthAdjust="spacingAndGlyphs">KOL: -264.7 m</text>
<text class="lb" x="259.4" y="734.0" textLength="86.4" lengthAdjust="spacingAndGlyphs">KRT: -205.3 m</text>
</g>
<text class="tt" x="268.2" y="21" textLength="245.6" lengthAdjust="spacingAndGlyphs">Cu Potential Thickness (HBL − LCL)</text>
<text class="tt" x="180.9" y="37.2" textLength="420.8" lengthAdjust="spacingAndGlyphs">Valid 1700 LST (1500Z) THU 16 Oct 2025 [39hrFcst@0627z]</text>
<text class="tt" x="118.3" y="52.8" textLength="546" lengthAdjust="spacingAndGlyphs">FDV replot - DrJack BLIPMAP from RASP 1.3km GFSA-Initiated WRF-ARW model</text>
<text class="tk" x="49.2" y="109.5" textLength="43.1" lengthAdjust="spacingAndGlyphs">33.85°S</text>
<text class="tk" x="56.6" y="212.0" textLength="35.7" lengthAdjust="spacingAndGlyphs">33.9°S</text>
<text class="tk" x="49.2" y="314.6" textLength="43.1" lengthAdjust="spacingAndGlyphs">33.95°S</text>
<text class="tk" x="67.6" y="417.1" textLength="24.7" lengthAdjust="spacingAndGlyphs">34°S</text>
<text class="tk" x="49.2" y="519.7" textLength="43.1" lengthAdjust="spacingAndGlyphs">34.05°S</text>
<text class="tk" x="56.6" y="622.2" textLength="35.7" lengthAdjust="spacingAndGlyphs">34.1°S</text>
<text class="tk" x="49.2" y="724.8" textLength="43.1" lengthAdjust="spacingAndGlyphs">34.15°S</text>
<text class="tk" transform="translate(118.4,875.6) rotate(-90)" textLength="42.1" lengthAdjust="spacingAndGlyphs">18.25°E</text>
<text class="tk" transform="translate(203.8,867.7) rotate(-90)" textLength="34.2" lengthAdjust="spacingAndGlyphs">18.3°E</text>
<text class="tk" transform="translate(289.2,875.6) rotate(-90)" textLength="42.1" lengthAdjust="spacingAndGlyphs">18.35°E</text>
<text class="tk" transform="translate(374.6,867.7) rotate(-90)" textLength="34.2" lengthAdjust="spacingAndGlyphs">18.4°E</text>
<text class="tk" transform="translate(460.0,875.6) rotate(-90)" textLength="42.1" lengthAdjust="spacingAndGlyphs">18.45°E</text>
<text class="tk" transform="translate(545.4,867.7) rotate(-90)" textLength="34.2" lengthAdjust="spacingAndGlyphs">18.5°E</text>
<text class="tk" transform="translate(630.8,875.6) rotate(-90)" textLength="42.1" lengthAdjust="spacingAndGlyphs">18.55°E</text>
<g shape-rendering="crispEdges">
<rect x="34.50" y="879.5" width="25.96" height="29.40" fill="#0000e6"/>
<rect x="60.16" y="879.5" width="25.96" height="29.40" fill="#0030e6"/>
<rect x="85.81" y="879.5" width="25.96" height="29.40" fill="#0060e6"/>
<rect x="111.47" y="879.5" width="25.96" height="29.40" fill="#0090e6"/>
<rect x="137.12" y="879.5" width="25.96" height="29.40" fill="#00b4e6"/>
<rect x="162.78" y="879.5" width="25.96" height="29.40" fill="#00dce6"/>
<rect x="188.43" y="879.5" width="25.96" height="29.40" fill="#00dcc8"/>
<rect x="214.09" y="879.5" width="25.96" height="29.40" fill="#00d2a0"/>
<rect x="239.74" y="879.5" width="25.96" height="29.40" fill="#00c878"/>
<rect x="265.40" y="879.5" width="25.96" height="29.40" fill="#00b450"/>
<rect x="291.05" y="879.5" width="25.96" height="29.40" fill="#00aa1e"/>
<rect x="316.71" y="879.5" width="25.96" height="29.40" fill="#23af0f"/>
<rect x="342.36" y="879.5" width="25.96" height="29.40" fill="#46b400"/>
<rect x="368.02" y="879.5" width="25.96" height="29.40" fill="#78c800"/>
<rect x="393.67" y="879.5" width="25.96" height="29.40" fill="#a0d200"/>
<rect x="419.33" y="879.5" width="25.96" height="29.40" fill="#c8e000"/>
<rect x="444.98" y="879.5" width="25.96" height="29.40" fill="#e0e000"/>
<rect x="470.64" y="879.5" width="25.96" height="29.40" fill="#ebd700"/>
<rect x="496.29" y="879.5" width="25.96" height="29.40" fill="#ebc800"/>
<rect x="521.95" y="879.5" width="25.96" height="29.40" fill="#ebb900"/>
<rect x="547.60" y="879.5" width="25.96" height="29.40" fill="#ebaa00"/>
<rect x="573.26" y="879.5" width="25.96" height="29.40" fill="#eb9600"/>
<rect x="598.91" y="879.5" width="25.96" height="29.40" fill="#eb8200"/>
<rect x="624.57" y="879.5" width="25.96" height="29.40" fill="#eb6400"/>
<rect x="650.22" y="879.5" width="25.96" height="29.40" fill="#eb4600"/>
<rect x="675.88" y="879.5" width="25.96" height="29.40" fill="#eb2800"/>
<rect x="701.53" y="879.5" width="25.96" height="29.40" fill="#e61400"/>
<rect x="727.19" y="879.5" width="25.96" height="29.40" fill="#dc0a0a"/>
<rect x="752.84" y="879.5" width="25.96" height="29.40" fill="#be0023"/>
</g>
<rect x="34.5" y="879.5" width="744.00" height="29.40" fill="none" stroke="#000" stroke-width="1.1"/>
<g stroke="#000" stroke-width="1.1">
<line x1="34.50" y1="908.9" x2="34.50" y2="913.8"/>
<line x1="60.16" y1="908.9" x2="60.16" y2="911.6999999999999"/>
<line x1="85.81" y1="908.9" x2="85.81" y2="913.8"/>
<line x1="111.47" y1="908.9" x2="111.47" y2="911.6999999999999"/>
<line x1="137.12" y1="908.9" x2="137.12" y2="913.8"/>
<line x1="162.78" y1="908.9" x2="162.78" y2="911.6999999999999"/>
<line x1="188.43" y1="908.9" x2="188.43" y2="913.8"/>
<line x1="214.09" y1="908.9" x2="214.09" y2="911.6999999999999"/>
<line x1="239.74" y1="908.9" x2="239.74" y2="913.8"/>
<line x1="265.40" y1="908.9" x2="265.40" y2="911.6999999999999"/>
<line x1="291.05" y1="908.9" x2="291.05" y2="913.8"/>
<line x1="316.71" y1="908.9" x2="316.71" y2="911.6999999999999"/>
<line x1="342.36" y1="908.9" x2="342.36" y2="913.8"/>
<line x1="368.02" y1="908.9" x2="368.02" y2="911.6999999999999"/>
<line x1="393.67" y1="908.9" x2="393.67" y2="913.8"/>
<line x1="419.33" y1="908.9" x2="419.33" y2="911.6999999999999"/>
<line x1="444.98" y1="908.9" x2="444.98" y2="913.8"/>
<line x1="470.64" y1="908.9" x2="470.64" y2="911.6999999999999"/>
<line x1="496.29" y1="908.9" x2="496.29" y2="913.8"/>
<line x1="521.95" y1="908.9" x2="521.95" y2="911.6999999999999"/>
<line x1="547.60" y1="908.9" x2="547.60" y2="913.8"/>
<line x1="573.26" y1="908.9" x2="573.26" y2="911.6999999999999"/>
<line x1="598.91" y1="908.9" x2="598.91" y2="913.8"/>
<line x1="624.57" y1="908.9" x2="624.57" y2="911.6999999999999"/>
<line x1="650.22" y1="908.9" x2="650.22" y2="913.8"/>
<line x1="675.88" y1="908.9" x2="675.88" y2="911.6999999999999"/>
<line x1="701.53" y1="908.9" x2="701.53" y2="913.8"/>
<line x1="727.19" y1="908.9" x2="727.19" y2="911.6999999999999"/>
<line x1="752.84" y1="908.9" x2="752.84" y2="913.8"/>
<line x1="778.50" y1="908.9" x2="778.50" y2="911.6999999999999"/>
</g>
<text class="cb" x="12.4" y="930.4" textLength="44.2" lengthAdjust="spacingAndGlyphs">−6250</text>
<text class="cb" x="63.7" y="930.4" textLength="44.2" lengthAdjust="spacingAndGlyphs">−5750</text>
<text class="cb" x="115.0" y="930.4" textLength="44.2" lengthAdjust="spacingAndGlyphs">−5250</text>
<text class="cb" x="166.3" y="930.4" textLength="44.2" lengthAdjust="spacingAndGlyphs">−4750</text>
<text class="cb" x="217.6" y="930.4" textLength="44.2" lengthAdjust="spacingAndGlyphs">−4250</text>
<text class="cb" x="269.0" y="930.4" textLength="44.2" lengthAdjust="spacingAndGlyphs">−3750</text>
<text class="cb" x="320.3" y="930.4" textLength="44.2" lengthAdjust="spacingAndGlyphs">−3250</text>
<text class="cb" x="371.6" y="930.4" textLength="44.2" lengthAdjust="spacingAndGlyphs">−2750</text>
<text class="cb" x="422.9" y="930.4" textLength="44.2" lengthAdjust="spacingAndGlyphs">−2250</text>
<text class="cb" x="474.2" y="930.4" textLength="44.2" lengthAdjust="spacingAndGlyphs">−1750</text>
<text class="cb" x="525.5" y="930.4" textLength="44.2" lengthAdjust="spacingAndGlyphs">−1250</text>
<text class="cb" x="580.6" y="930.4" textLength="36.6" lengthAdjust="spacingAndGlyphs">−750</text>
<text class="cb" x="631.9" y="930.4" textLength="36.6" lengthAdjust="spacingAndGlyphs">−250</text>
<text class="cb" x="688.1" y="930.4" textLength="26.8" lengthAdjust="spacingAndGlyphs">250</text>
<text class="cb" x="739.4" y="930.4" textLength="26.8" lengthAdjust="spacingAndGlyphs">750</text>
<text class="cb" x="358.8" y="949.6" textLength="93.8" lengthAdjust="spacingAndGlyphs">zsfclcldifb [ft]</text>
</svg></body></html>
